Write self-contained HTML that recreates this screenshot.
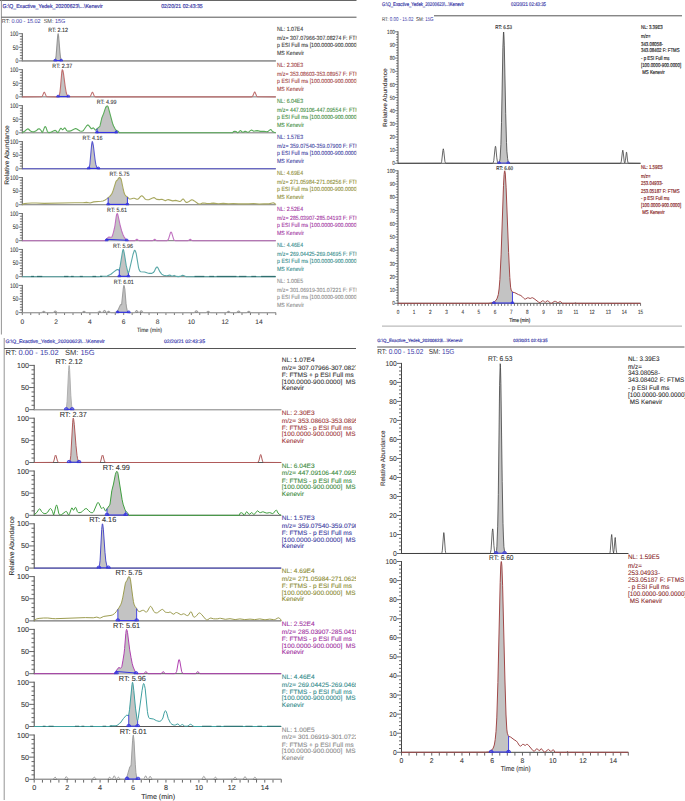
<!DOCTYPE html>
<html><head><meta charset="utf-8"><style>
html,body{margin:0;padding:0;background:#fff;overflow:hidden;}
svg{display:block;}
text{font-family:"Liberation Sans", sans-serif;white-space:pre;text-rendering:geometricPrecision;}
</style></head><body>
<svg width="685" height="801" viewBox="0 0 685 801" font-family='"Liberation Sans", sans-serif'>
<defs><clipPath id="ctl"><rect x="0" y="0" width="356.5" height="340"/></clipPath><clipPath id="cbl"><rect x="0" y="336" width="356" height="465"/></clipPath><clipPath id="cbr"><rect x="360" y="336" width="325" height="465"/></clipPath></defs>
<rect width="685" height="801" fill="#fff"/>
<line x1="0.00" y1="0.50" x2="356.50" y2="0.50" stroke="#666" stroke-width="1.2"/>
<line x1="1.40" y1="0.00" x2="1.40" y2="334.50" stroke="#888" stroke-width="0.9"/>
<line x1="1.40" y1="17.20" x2="356.50" y2="17.20" stroke="#555" stroke-width="1"/>
<text x="2.50" y="7.56" font-size="5.6" fill="#3a3aa8" stroke="#3a3aa8" stroke-width="0.18" textLength="100.3" lengthAdjust="spacingAndGlyphs">G:\Q_Exactive_Yedek_20200623\...\Kenevir</text>
<text x="161.20" y="7.56" font-size="5.6" fill="#3a3aa8" stroke="#3a3aa8" stroke-width="0.18" textLength="41.5" lengthAdjust="spacingAndGlyphs">02/20/21 02:43:35</text>
<text x="1.8" y="23.3" font-size="5.8" fill="#3a3aa8" textLength="63.5" lengthAdjust="spacingAndGlyphs"><tspan fill="#444">RT:</tspan> 0.00 - 15.02  <tspan fill="#444">SM:</tspan> 15G</text>
<text x="6.40" y="157.28" font-size="6.5" fill="#2a2a2a" stroke="#2a2a2a" stroke-width="0.09" text-anchor="middle" textLength="59.5" lengthAdjust="spacingAndGlyphs" transform="rotate(-90 6.4 155)">Relative Abundance</text>
<line x1="22.30" y1="312.62" x2="275.80" y2="312.62" stroke="#666" stroke-width="0.9"/>
<line x1="22.30" y1="312.62" x2="22.30" y2="315.02" stroke="#555" stroke-width="0.8"/>
<line x1="30.75" y1="312.62" x2="30.75" y2="315.02" stroke="#555" stroke-width="0.8"/>
<line x1="39.20" y1="312.62" x2="39.20" y2="315.02" stroke="#555" stroke-width="0.8"/>
<line x1="47.65" y1="312.62" x2="47.65" y2="315.02" stroke="#555" stroke-width="0.8"/>
<line x1="56.10" y1="312.62" x2="56.10" y2="315.02" stroke="#555" stroke-width="0.8"/>
<line x1="64.55" y1="312.62" x2="64.55" y2="315.02" stroke="#555" stroke-width="0.8"/>
<line x1="73.00" y1="312.62" x2="73.00" y2="315.02" stroke="#555" stroke-width="0.8"/>
<line x1="81.45" y1="312.62" x2="81.45" y2="315.02" stroke="#555" stroke-width="0.8"/>
<line x1="89.90" y1="312.62" x2="89.90" y2="315.02" stroke="#555" stroke-width="0.8"/>
<line x1="98.35" y1="312.62" x2="98.35" y2="315.02" stroke="#555" stroke-width="0.8"/>
<line x1="106.80" y1="312.62" x2="106.80" y2="315.02" stroke="#555" stroke-width="0.8"/>
<line x1="115.25" y1="312.62" x2="115.25" y2="315.02" stroke="#555" stroke-width="0.8"/>
<line x1="123.70" y1="312.62" x2="123.70" y2="315.02" stroke="#555" stroke-width="0.8"/>
<line x1="132.15" y1="312.62" x2="132.15" y2="315.02" stroke="#555" stroke-width="0.8"/>
<line x1="140.60" y1="312.62" x2="140.60" y2="315.02" stroke="#555" stroke-width="0.8"/>
<line x1="149.05" y1="312.62" x2="149.05" y2="315.02" stroke="#555" stroke-width="0.8"/>
<line x1="157.50" y1="312.62" x2="157.50" y2="315.02" stroke="#555" stroke-width="0.8"/>
<line x1="165.95" y1="312.62" x2="165.95" y2="315.02" stroke="#555" stroke-width="0.8"/>
<line x1="174.40" y1="312.62" x2="174.40" y2="315.02" stroke="#555" stroke-width="0.8"/>
<line x1="182.85" y1="312.62" x2="182.85" y2="315.02" stroke="#555" stroke-width="0.8"/>
<line x1="191.30" y1="312.62" x2="191.30" y2="315.02" stroke="#555" stroke-width="0.8"/>
<line x1="199.75" y1="312.62" x2="199.75" y2="315.02" stroke="#555" stroke-width="0.8"/>
<line x1="208.20" y1="312.62" x2="208.20" y2="315.02" stroke="#555" stroke-width="0.8"/>
<line x1="216.65" y1="312.62" x2="216.65" y2="315.02" stroke="#555" stroke-width="0.8"/>
<line x1="225.10" y1="312.62" x2="225.10" y2="315.02" stroke="#555" stroke-width="0.8"/>
<line x1="233.55" y1="312.62" x2="233.55" y2="315.02" stroke="#555" stroke-width="0.8"/>
<line x1="242.00" y1="312.62" x2="242.00" y2="315.02" stroke="#555" stroke-width="0.8"/>
<line x1="250.45" y1="312.62" x2="250.45" y2="315.02" stroke="#555" stroke-width="0.8"/>
<line x1="258.90" y1="312.62" x2="258.90" y2="315.02" stroke="#555" stroke-width="0.8"/>
<line x1="267.35" y1="312.62" x2="267.35" y2="315.02" stroke="#555" stroke-width="0.8"/>
<line x1="275.80" y1="312.62" x2="275.80" y2="315.02" stroke="#555" stroke-width="0.8"/>
<text x="22.30" y="323.83" font-size="6.6" fill="#3a3a3a" stroke="#3a3a3a" stroke-width="0.09" text-anchor="middle">0</text>
<text x="56.10" y="323.83" font-size="6.6" fill="#3a3a3a" stroke="#3a3a3a" stroke-width="0.09" text-anchor="middle">2</text>
<text x="89.90" y="323.83" font-size="6.6" fill="#3a3a3a" stroke="#3a3a3a" stroke-width="0.09" text-anchor="middle">4</text>
<text x="123.70" y="323.83" font-size="6.6" fill="#3a3a3a" stroke="#3a3a3a" stroke-width="0.09" text-anchor="middle">6</text>
<text x="157.50" y="323.83" font-size="6.6" fill="#3a3a3a" stroke="#3a3a3a" stroke-width="0.09" text-anchor="middle">8</text>
<text x="191.30" y="323.83" font-size="6.6" fill="#3a3a3a" stroke="#3a3a3a" stroke-width="0.09" text-anchor="middle">10</text>
<text x="225.10" y="323.83" font-size="6.6" fill="#3a3a3a" stroke="#3a3a3a" stroke-width="0.09" text-anchor="middle">12</text>
<text x="258.90" y="323.83" font-size="6.6" fill="#3a3a3a" stroke="#3a3a3a" stroke-width="0.09" text-anchor="middle">14</text>
<text x="149.56" y="332.02" font-size="6.0" fill="#333" stroke="#333" stroke-width="0.09" text-anchor="middle" textLength="25.1" lengthAdjust="spacingAndGlyphs">Time (min)</text>
<line x1="22.30" y1="33.20" x2="22.30" y2="61.40" stroke="#444" stroke-width="0.9"/>
<line x1="22.30" y1="60.90" x2="275.80" y2="60.90" stroke="#666" stroke-width="0.9"/>
<line x1="18.70" y1="60.90" x2="22.30" y2="60.90" stroke="#555" stroke-width="0.8"/>
<line x1="19.90" y1="58.18" x2="22.30" y2="58.18" stroke="#555" stroke-width="0.8"/>
<line x1="19.90" y1="55.46" x2="22.30" y2="55.46" stroke="#555" stroke-width="0.8"/>
<line x1="19.90" y1="52.74" x2="22.30" y2="52.74" stroke="#555" stroke-width="0.8"/>
<line x1="19.90" y1="50.02" x2="22.30" y2="50.02" stroke="#555" stroke-width="0.8"/>
<line x1="18.70" y1="47.30" x2="22.30" y2="47.30" stroke="#555" stroke-width="0.8"/>
<line x1="19.90" y1="44.58" x2="22.30" y2="44.58" stroke="#555" stroke-width="0.8"/>
<line x1="19.90" y1="41.86" x2="22.30" y2="41.86" stroke="#555" stroke-width="0.8"/>
<line x1="19.90" y1="39.14" x2="22.30" y2="39.14" stroke="#555" stroke-width="0.8"/>
<line x1="19.90" y1="36.42" x2="22.30" y2="36.42" stroke="#555" stroke-width="0.8"/>
<line x1="18.70" y1="33.70" x2="22.30" y2="33.70" stroke="#555" stroke-width="0.8"/>
<text x="18.40" y="63.21" font-size="6.6" fill="#3a3a3a" stroke="#3a3a3a" stroke-width="0.09" text-anchor="end" textLength="2.8" lengthAdjust="spacingAndGlyphs">0</text>
<text x="18.40" y="49.61" font-size="6.6" fill="#3a3a3a" stroke="#3a3a3a" stroke-width="0.09" text-anchor="end" textLength="5.6" lengthAdjust="spacingAndGlyphs">50</text>
<text x="18.40" y="36.01" font-size="6.6" fill="#3a3a3a" stroke="#3a3a3a" stroke-width="0.09" text-anchor="end" textLength="8.3" lengthAdjust="spacingAndGlyphs">100</text>
<polygon points="55.3,60.9 55.3,60.0 55.8,58.2 56.2,55.1 57.6,36.9 57.9,34.5 58.1,33.7 58.4,34.5 58.7,37.0 60.2,54.9 60.7,58.1 61.2,59.9 61.2,60.9" fill="#c3c3c3" stroke="none"/>
<polyline points="22.3,60.9 53.4,60.9 54.2,60.9 54.8,60.6 55.5,59.5 56.1,56.0 57.6,36.9 58.0,33.9 58.2,33.8 58.6,36.1 59.9,52.1 60.5,57.5 61.0,59.3 61.4,60.3 61.8,60.7 62.4,60.9 275.8,60.9" fill="none" stroke="#959595" stroke-width="1.1" stroke-linejoin="round"/>
<line x1="55.25" y1="60.60" x2="61.17" y2="60.60" stroke="#3434e0" stroke-width="1.2100000000000002"/>
<path d="M53.75,61.00 Q53.75,59.20 55.25,59.20 Q56.75,59.20 56.75,61.00 Z" fill="#3434e0" fill-opacity="0.55" stroke="#3434e0" stroke-width="0.8800000000000001"/>
<path d="M59.67,61.00 Q59.67,59.20 61.17,59.20 Q62.67,59.20 62.67,61.00 Z" fill="#3434e0" fill-opacity="0.55" stroke="#3434e0" stroke-width="0.8800000000000001"/>
<text x="58.13" y="31.80" font-size="6.0" fill="#333" stroke="#333" stroke-width="0.09" text-anchor="middle" textLength="20.0" lengthAdjust="spacingAndGlyphs">RT: 2.12</text>
<text x="277.00" y="30.80" font-size="6.0" fill="#333333" stroke="#333333" stroke-width="0.09" textLength="26.3" lengthAdjust="spacingAndGlyphs" clip-path="url(#ctl)">NL: 1.07E4</text>
<text x="277.00" y="39.80" font-size="6.0" fill="#333333" stroke="#333333" stroke-width="0.09" textLength="90.8" lengthAdjust="spacingAndGlyphs" clip-path="url(#ctl)">m/z= 307.07966-307.08274 F: FTMS +</text>
<text x="277.00" y="47.30" font-size="6.0" fill="#333333" stroke="#333333" stroke-width="0.09" textLength="81.1" lengthAdjust="spacingAndGlyphs" clip-path="url(#ctl)">p ESI Full ms [100.0000-900.0000]</text>
<text x="277.00" y="54.80" font-size="6.0" fill="#333333" stroke="#333333" stroke-width="0.09" textLength="27.1" lengthAdjust="spacingAndGlyphs" clip-path="url(#ctl)">MS Kenevir</text>
<line x1="22.30" y1="69.16" x2="22.30" y2="97.36" stroke="#444" stroke-width="0.9"/>
<line x1="22.30" y1="96.86" x2="275.80" y2="96.86" stroke="#666" stroke-width="0.9"/>
<line x1="18.70" y1="96.86" x2="22.30" y2="96.86" stroke="#555" stroke-width="0.8"/>
<line x1="19.90" y1="94.14" x2="22.30" y2="94.14" stroke="#555" stroke-width="0.8"/>
<line x1="19.90" y1="91.42" x2="22.30" y2="91.42" stroke="#555" stroke-width="0.8"/>
<line x1="19.90" y1="88.70" x2="22.30" y2="88.70" stroke="#555" stroke-width="0.8"/>
<line x1="19.90" y1="85.98" x2="22.30" y2="85.98" stroke="#555" stroke-width="0.8"/>
<line x1="18.70" y1="83.26" x2="22.30" y2="83.26" stroke="#555" stroke-width="0.8"/>
<line x1="19.90" y1="80.54" x2="22.30" y2="80.54" stroke="#555" stroke-width="0.8"/>
<line x1="19.90" y1="77.82" x2="22.30" y2="77.82" stroke="#555" stroke-width="0.8"/>
<line x1="19.90" y1="75.10" x2="22.30" y2="75.10" stroke="#555" stroke-width="0.8"/>
<line x1="19.90" y1="72.38" x2="22.30" y2="72.38" stroke="#555" stroke-width="0.8"/>
<line x1="18.70" y1="69.66" x2="22.30" y2="69.66" stroke="#555" stroke-width="0.8"/>
<text x="18.40" y="99.17" font-size="6.6" fill="#3a3a3a" stroke="#3a3a3a" stroke-width="0.09" text-anchor="end" textLength="2.8" lengthAdjust="spacingAndGlyphs">0</text>
<text x="18.40" y="85.57" font-size="6.6" fill="#3a3a3a" stroke="#3a3a3a" stroke-width="0.09" text-anchor="end" textLength="5.6" lengthAdjust="spacingAndGlyphs">50</text>
<text x="18.40" y="71.97" font-size="6.6" fill="#3a3a3a" stroke="#3a3a3a" stroke-width="0.09" text-anchor="end" textLength="8.3" lengthAdjust="spacingAndGlyphs">100</text>
<polygon points="58.1,96.9 58.1,96.8 58.8,96.3 59.2,95.6 59.9,92.8 60.5,87.6 61.7,72.9 62.0,70.4 62.3,69.7 62.4,69.7 62.6,69.8 62.9,70.5 63.4,73.1 65.2,86.9 66.0,91.6 66.9,94.7 67.5,95.8 68.3,96.5 68.3,96.9" fill="#c3c3c3" stroke="none"/>
<polyline points="22.3,96.9 41.3,96.8 41.9,96.5 42.4,96.1 43.8,92.6 44.3,92.2 44.7,92.6 46.2,96.1 47.0,96.7 56.9,96.9 58.4,96.6 58.8,96.3 59.3,95.5 59.9,92.7 60.5,87.1 61.8,72.1 62.2,69.8 62.4,69.7 62.9,70.5 63.5,73.6 65.2,86.6 66.2,92.5 66.9,94.6 67.5,95.8 68.4,96.5 69.4,96.8 89.5,96.8 90.1,96.5 90.5,96.1 92.0,92.6 92.4,92.2 92.9,92.6 94.3,96.1 95.0,96.7 96.0,96.9 251.1,96.9 252.1,96.6 252.8,96.0 254.3,92.4 254.7,92.0 255.1,92.4 256.6,96.0 257.0,96.5 257.6,96.8 275.8,96.9" fill="none" stroke="#c07070" stroke-width="1.1" stroke-linejoin="round"/>
<line x1="58.13" y1="96.56" x2="68.27" y2="96.56" stroke="#3434e0" stroke-width="1.2100000000000002"/>
<path d="M56.63,96.96 Q56.63,95.16 58.13,95.16 Q59.63,95.16 59.63,96.96 Z" fill="#3434e0" fill-opacity="0.55" stroke="#3434e0" stroke-width="0.8800000000000001"/>
<path d="M66.77,96.96 Q66.77,95.16 68.27,95.16 Q69.77,95.16 69.77,96.96 Z" fill="#3434e0" fill-opacity="0.55" stroke="#3434e0" stroke-width="0.8800000000000001"/>
<text x="62.35" y="67.76" font-size="6.0" fill="#333" stroke="#333" stroke-width="0.09" text-anchor="middle" textLength="20.0" lengthAdjust="spacingAndGlyphs">RT: 2.37</text>
<text x="277.00" y="66.76" font-size="6.0" fill="#a03a3a" stroke="#a03a3a" stroke-width="0.09" textLength="26.3" lengthAdjust="spacingAndGlyphs" clip-path="url(#ctl)">NL: 2.30E3</text>
<text x="277.00" y="75.76" font-size="6.0" fill="#a03a3a" stroke="#a03a3a" stroke-width="0.09" textLength="89.4" lengthAdjust="spacingAndGlyphs" clip-path="url(#ctl)">m/z= 353.08603-353.08957 F: FTMS -</text>
<text x="277.00" y="83.26" font-size="6.0" fill="#a03a3a" stroke="#a03a3a" stroke-width="0.09" textLength="81.1" lengthAdjust="spacingAndGlyphs" clip-path="url(#ctl)">p ESI Full ms [100.0000-900.0000]</text>
<text x="277.00" y="90.76" font-size="6.0" fill="#a03a3a" stroke="#a03a3a" stroke-width="0.09" textLength="27.1" lengthAdjust="spacingAndGlyphs" clip-path="url(#ctl)">MS Kenevir</text>
<line x1="22.30" y1="105.12" x2="22.30" y2="133.32" stroke="#444" stroke-width="0.9"/>
<line x1="22.30" y1="132.82" x2="275.80" y2="132.82" stroke="#666" stroke-width="0.9"/>
<line x1="18.70" y1="132.82" x2="22.30" y2="132.82" stroke="#555" stroke-width="0.8"/>
<line x1="19.90" y1="130.10" x2="22.30" y2="130.10" stroke="#555" stroke-width="0.8"/>
<line x1="19.90" y1="127.38" x2="22.30" y2="127.38" stroke="#555" stroke-width="0.8"/>
<line x1="19.90" y1="124.66" x2="22.30" y2="124.66" stroke="#555" stroke-width="0.8"/>
<line x1="19.90" y1="121.94" x2="22.30" y2="121.94" stroke="#555" stroke-width="0.8"/>
<line x1="18.70" y1="119.22" x2="22.30" y2="119.22" stroke="#555" stroke-width="0.8"/>
<line x1="19.90" y1="116.50" x2="22.30" y2="116.50" stroke="#555" stroke-width="0.8"/>
<line x1="19.90" y1="113.78" x2="22.30" y2="113.78" stroke="#555" stroke-width="0.8"/>
<line x1="19.90" y1="111.06" x2="22.30" y2="111.06" stroke="#555" stroke-width="0.8"/>
<line x1="19.90" y1="108.34" x2="22.30" y2="108.34" stroke="#555" stroke-width="0.8"/>
<line x1="18.70" y1="105.62" x2="22.30" y2="105.62" stroke="#555" stroke-width="0.8"/>
<text x="18.40" y="135.13" font-size="6.6" fill="#3a3a3a" stroke="#3a3a3a" stroke-width="0.09" text-anchor="end" textLength="2.8" lengthAdjust="spacingAndGlyphs">0</text>
<text x="18.40" y="121.53" font-size="6.6" fill="#3a3a3a" stroke="#3a3a3a" stroke-width="0.09" text-anchor="end" textLength="5.6" lengthAdjust="spacingAndGlyphs">50</text>
<text x="18.40" y="107.93" font-size="6.6" fill="#3a3a3a" stroke="#3a3a3a" stroke-width="0.09" text-anchor="end" textLength="8.3" lengthAdjust="spacingAndGlyphs">100</text>
<polygon points="97.0,132.8 97.0,128.7 99.6,126.7 100.0,126.1 100.5,124.5 101.5,119.2 102.0,117.6 103.7,113.5 105.5,108.0 106.4,106.4 106.8,106.0 107.1,105.9 107.5,106.0 107.8,106.3 108.3,107.4 112.9,124.5 114.2,127.2 115.5,129.4 116.3,130.4 116.3,132.8" fill="#c3c3c3" stroke="none"/>
<polyline points="22.3,132.8 22.9,132.2 25.0,131.0 26.7,129.4 27.6,128.9 28.4,129.0 29.9,130.5 31.0,131.2 32.2,131.7 33.3,131.9 34.6,131.6 36.2,130.8 38.1,129.0 39.0,128.7 39.8,129.1 41.1,130.5 42.2,132.6 42.8,131.8 44.5,127.4 44.9,126.7 45.3,126.5 46.0,127.3 47.4,131.5 48.1,132.3 48.7,132.6 50.4,132.4 54.4,130.6 55.3,130.4 55.9,130.7 57.2,132.3 57.8,132.6 58.6,131.8 60.1,129.1 60.7,128.3 61.2,128.3 62.2,129.5 62.6,129.7 63.1,129.5 64.3,128.1 64.8,127.9 65.4,128.5 66.7,130.6 67.5,131.1 69.4,131.1 70.7,130.9 73.4,129.4 75.5,128.6 76.4,128.8 80.0,131.0 81.9,131.2 82.7,131.0 83.4,130.5 86.7,125.7 87.8,124.9 88.6,125.3 91.2,128.6 91.8,128.7 92.9,128.0 93.3,127.9 93.9,128.4 95.2,130.0 95.8,130.2 96.9,128.9 99.6,126.6 100.0,125.9 101.9,117.7 103.6,113.6 105.5,107.9 106.4,106.4 107.2,105.9 107.9,106.4 108.3,107.3 112.5,123.2 113.6,126.0 115.2,129.0 116.1,130.2 118.0,131.2 119.3,132.7 119.7,132.8 232.7,132.8 233.5,131.5 234.8,131.2 236.1,131.5 237.4,132.7 237.8,132.8 238.4,132.4 239.7,131.0 240.3,130.6 240.9,130.8 242.2,132.0 242.8,132.3 243.5,132.1 244.7,131.4 245.4,131.2 246.0,131.4 247.3,132.2 247.9,132.3 248.8,131.9 250.7,130.4 251.5,130.1 253.8,131.2 257.2,130.6 260.4,131.4 264.0,131.2 266.9,131.8 267.8,131.6 269.9,129.9 270.7,129.6 271.2,129.8 272.4,131.5 274.1,132.3 275.8,132.8" fill="none" stroke="#5aab5a" stroke-width="1.1" stroke-linejoin="round"/>
<line x1="97.00" y1="132.82" x2="97.00" y2="128.74" stroke="#3434e0" stroke-width="0.9900000000000001"/>
<line x1="116.26" y1="132.82" x2="116.26" y2="130.37" stroke="#3434e0" stroke-width="0.9900000000000001"/>
<line x1="97.00" y1="132.52" x2="116.26" y2="132.52" stroke="#3434e0" stroke-width="1.2100000000000002"/>
<path d="M95.50,132.92 Q95.50,131.12 97.00,131.12 Q98.50,131.12 98.50,132.92 Z" fill="#3434e0" fill-opacity="0.55" stroke="#3434e0" stroke-width="0.8800000000000001"/>
<path d="M114.76,132.92 Q114.76,131.12 116.26,131.12 Q117.76,131.12 117.76,132.92 Z" fill="#3434e0" fill-opacity="0.55" stroke="#3434e0" stroke-width="0.8800000000000001"/>
<text x="106.63" y="103.72" font-size="6.0" fill="#333" stroke="#333" stroke-width="0.09" text-anchor="middle" textLength="20.0" lengthAdjust="spacingAndGlyphs">RT: 4.99</text>
<text x="277.00" y="102.72" font-size="6.0" fill="#3a8a3a" stroke="#3a8a3a" stroke-width="0.09" textLength="26.3" lengthAdjust="spacingAndGlyphs" clip-path="url(#ctl)">NL: 6.04E3</text>
<text x="277.00" y="111.72" font-size="6.0" fill="#3a8a3a" stroke="#3a8a3a" stroke-width="0.09" textLength="89.4" lengthAdjust="spacingAndGlyphs" clip-path="url(#ctl)">m/z= 447.09106-447.09554 F: FTMS -</text>
<text x="277.00" y="119.22" font-size="6.0" fill="#3a8a3a" stroke="#3a8a3a" stroke-width="0.09" textLength="81.1" lengthAdjust="spacingAndGlyphs" clip-path="url(#ctl)">p ESI Full ms [100.0000-900.0000]</text>
<text x="277.00" y="126.72" font-size="6.0" fill="#3a8a3a" stroke="#3a8a3a" stroke-width="0.09" textLength="27.1" lengthAdjust="spacingAndGlyphs" clip-path="url(#ctl)">MS Kenevir</text>
<line x1="22.30" y1="141.08" x2="22.30" y2="169.28" stroke="#444" stroke-width="0.9"/>
<line x1="22.30" y1="168.78" x2="275.80" y2="168.78" stroke="#666" stroke-width="0.9"/>
<line x1="18.70" y1="168.78" x2="22.30" y2="168.78" stroke="#555" stroke-width="0.8"/>
<line x1="19.90" y1="166.06" x2="22.30" y2="166.06" stroke="#555" stroke-width="0.8"/>
<line x1="19.90" y1="163.34" x2="22.30" y2="163.34" stroke="#555" stroke-width="0.8"/>
<line x1="19.90" y1="160.62" x2="22.30" y2="160.62" stroke="#555" stroke-width="0.8"/>
<line x1="19.90" y1="157.90" x2="22.30" y2="157.90" stroke="#555" stroke-width="0.8"/>
<line x1="18.70" y1="155.18" x2="22.30" y2="155.18" stroke="#555" stroke-width="0.8"/>
<line x1="19.90" y1="152.46" x2="22.30" y2="152.46" stroke="#555" stroke-width="0.8"/>
<line x1="19.90" y1="149.74" x2="22.30" y2="149.74" stroke="#555" stroke-width="0.8"/>
<line x1="19.90" y1="147.02" x2="22.30" y2="147.02" stroke="#555" stroke-width="0.8"/>
<line x1="19.90" y1="144.30" x2="22.30" y2="144.30" stroke="#555" stroke-width="0.8"/>
<line x1="18.70" y1="141.58" x2="22.30" y2="141.58" stroke="#555" stroke-width="0.8"/>
<text x="18.40" y="171.09" font-size="6.6" fill="#3a3a3a" stroke="#3a3a3a" stroke-width="0.09" text-anchor="end" textLength="2.8" lengthAdjust="spacingAndGlyphs">0</text>
<text x="18.40" y="157.49" font-size="6.6" fill="#3a3a3a" stroke="#3a3a3a" stroke-width="0.09" text-anchor="end" textLength="5.6" lengthAdjust="spacingAndGlyphs">50</text>
<text x="18.40" y="143.89" font-size="6.6" fill="#3a3a3a" stroke="#3a3a3a" stroke-width="0.09" text-anchor="end" textLength="8.3" lengthAdjust="spacingAndGlyphs">100</text>
<polygon points="88.7,168.8 88.7,168.2 89.1,167.6 89.5,166.3 90.0,163.3 91.6,145.0 91.9,142.5 92.2,141.6 92.4,141.7 92.7,142.3 93.2,144.9 94.9,159.2 95.8,164.5 96.4,166.4 96.9,167.5 97.5,168.2 98.3,168.7 98.3,168.8" fill="#c3c3c3" stroke="none"/>
<polyline points="22.3,168.8 86.5,168.8 88.2,168.6 88.8,168.1 89.3,167.1 89.9,164.0 91.6,145.2 92.2,141.6 92.6,142.1 93.3,145.3 95.0,159.3 95.8,164.4 96.9,167.5 97.5,168.3 98.6,168.7 275.8,168.8" fill="none" stroke="#5a5ad0" stroke-width="1.1" stroke-linejoin="round"/>
<line x1="88.72" y1="168.48" x2="98.35" y2="168.48" stroke="#3434e0" stroke-width="1.2100000000000002"/>
<path d="M87.22,168.88 Q87.22,167.08 88.72,167.08 Q90.22,167.08 90.22,168.88 Z" fill="#3434e0" fill-opacity="0.55" stroke="#3434e0" stroke-width="0.8800000000000001"/>
<path d="M96.85,168.88 Q96.85,167.08 98.35,167.08 Q99.85,167.08 99.85,168.88 Z" fill="#3434e0" fill-opacity="0.55" stroke="#3434e0" stroke-width="0.8800000000000001"/>
<text x="92.60" y="139.68" font-size="6.0" fill="#333" stroke="#333" stroke-width="0.09" text-anchor="middle" textLength="20.0" lengthAdjust="spacingAndGlyphs">RT: 4.16</text>
<text x="277.00" y="138.68" font-size="6.0" fill="#3a3aa0" stroke="#3a3aa0" stroke-width="0.09" textLength="26.3" lengthAdjust="spacingAndGlyphs" clip-path="url(#ctl)">NL: 1.57E3</text>
<text x="277.00" y="147.68" font-size="6.0" fill="#3a3aa0" stroke="#3a3aa0" stroke-width="0.09" textLength="89.4" lengthAdjust="spacingAndGlyphs" clip-path="url(#ctl)">m/z= 359.07540-359.07900 F: FTMS -</text>
<text x="277.00" y="155.18" font-size="6.0" fill="#3a3aa0" stroke="#3a3aa0" stroke-width="0.09" textLength="81.1" lengthAdjust="spacingAndGlyphs" clip-path="url(#ctl)">p ESI Full ms [100.0000-900.0000]</text>
<text x="277.00" y="162.68" font-size="6.0" fill="#3a3aa0" stroke="#3a3aa0" stroke-width="0.09" textLength="27.1" lengthAdjust="spacingAndGlyphs" clip-path="url(#ctl)">MS Kenevir</text>
<line x1="22.30" y1="177.04" x2="22.30" y2="205.24" stroke="#444" stroke-width="0.9"/>
<line x1="22.30" y1="204.74" x2="275.80" y2="204.74" stroke="#666" stroke-width="0.9"/>
<line x1="18.70" y1="204.74" x2="22.30" y2="204.74" stroke="#555" stroke-width="0.8"/>
<line x1="19.90" y1="202.02" x2="22.30" y2="202.02" stroke="#555" stroke-width="0.8"/>
<line x1="19.90" y1="199.30" x2="22.30" y2="199.30" stroke="#555" stroke-width="0.8"/>
<line x1="19.90" y1="196.58" x2="22.30" y2="196.58" stroke="#555" stroke-width="0.8"/>
<line x1="19.90" y1="193.86" x2="22.30" y2="193.86" stroke="#555" stroke-width="0.8"/>
<line x1="18.70" y1="191.14" x2="22.30" y2="191.14" stroke="#555" stroke-width="0.8"/>
<line x1="19.90" y1="188.42" x2="22.30" y2="188.42" stroke="#555" stroke-width="0.8"/>
<line x1="19.90" y1="185.70" x2="22.30" y2="185.70" stroke="#555" stroke-width="0.8"/>
<line x1="19.90" y1="182.98" x2="22.30" y2="182.98" stroke="#555" stroke-width="0.8"/>
<line x1="19.90" y1="180.26" x2="22.30" y2="180.26" stroke="#555" stroke-width="0.8"/>
<line x1="18.70" y1="177.54" x2="22.30" y2="177.54" stroke="#555" stroke-width="0.8"/>
<text x="18.40" y="207.05" font-size="6.6" fill="#3a3a3a" stroke="#3a3a3a" stroke-width="0.09" text-anchor="end" textLength="2.8" lengthAdjust="spacingAndGlyphs">0</text>
<text x="18.40" y="193.45" font-size="6.6" fill="#3a3a3a" stroke="#3a3a3a" stroke-width="0.09" text-anchor="end" textLength="5.6" lengthAdjust="spacingAndGlyphs">50</text>
<text x="18.40" y="179.85" font-size="6.6" fill="#3a3a3a" stroke="#3a3a3a" stroke-width="0.09" text-anchor="end" textLength="8.3" lengthAdjust="spacingAndGlyphs">100</text>
<polygon points="108.2,204.7 108.2,197.7 110.3,195.7 111.9,193.6 112.8,191.6 113.9,188.3 115.3,183.1 115.9,181.7 116.4,180.9 117.5,179.9 118.8,177.9 119.2,177.6 119.6,177.5 120.1,177.7 120.5,178.0 121.3,179.7 122.9,188.0 123.8,191.7 124.5,193.8 125.0,194.9 125.5,195.6 127.4,197.1 127.4,204.7" fill="#c3c3c3" stroke="none"/>
<polyline points="22.3,204.7 22.5,204.4 23.4,203.9 24.4,203.6 27.4,203.2 32.0,203.0 36.2,203.0 44.1,203.4 74.9,202.7 82.9,202.8 86.5,202.4 90.1,203.0 93.7,201.9 101.1,201.3 103.0,201.0 104.7,200.3 106.4,199.1 109.8,196.3 111.2,194.6 112.1,193.2 113.1,190.6 115.9,181.6 116.3,181.0 117.6,179.8 118.8,177.9 119.5,177.5 120.3,177.9 121.2,179.4 123.3,189.5 124.1,192.8 124.8,194.5 125.8,195.9 127.3,197.0 129.0,198.7 129.6,199.0 130.7,199.0 133.2,198.3 134.3,198.2 136.8,199.3 137.6,199.3 138.5,198.8 140.6,196.4 141.7,195.7 142.3,196.0 143.1,196.7 145.0,198.9 146.1,199.5 147.1,199.8 148.8,199.7 152.6,198.0 153.9,197.6 154.5,197.8 156.2,199.1 156.9,199.4 159.4,199.6 161.9,199.3 164.9,200.6 165.7,200.6 167.4,199.7 168.3,199.6 172.7,200.9 175.7,200.4 179.7,201.5 180.5,201.3 182.4,199.3 183.1,199.0 183.7,199.3 185.4,201.8 186.2,202.4 187.1,202.4 187.9,202.1 189.0,201.5 190.9,200.1 191.9,199.8 192.8,200.1 194.3,200.9 197.8,203.5 199.3,204.1 200.4,204.0 202.5,203.1 203.6,203.0 206.3,203.4 208.0,203.5 210.7,203.4 213.5,203.1 218.3,203.8 223.2,203.4 228.5,203.9 233.3,203.5 238.4,203.9 243.7,203.7 248.5,203.9 253.8,203.5 259.1,204.1 264.0,203.7 269.0,203.9 272.2,203.0 273.3,202.8 273.9,203.0 275.6,204.1 275.8,204.7" fill="none" stroke="#a8a860" stroke-width="1.1" stroke-linejoin="round"/>
<line x1="108.15" y1="204.74" x2="108.15" y2="197.67" stroke="#3434e0" stroke-width="0.9900000000000001"/>
<line x1="127.42" y1="204.74" x2="127.42" y2="197.12" stroke="#3434e0" stroke-width="0.9900000000000001"/>
<line x1="108.15" y1="204.44" x2="127.42" y2="204.44" stroke="#3434e0" stroke-width="1.2100000000000002"/>
<path d="M106.65,204.84 Q106.65,203.04 108.15,203.04 Q109.65,203.04 109.65,204.84 Z" fill="#3434e0" fill-opacity="0.55" stroke="#3434e0" stroke-width="0.8800000000000001"/>
<path d="M125.92,204.84 Q125.92,203.04 127.42,203.04 Q128.92,203.04 128.92,204.84 Z" fill="#3434e0" fill-opacity="0.55" stroke="#3434e0" stroke-width="0.8800000000000001"/>
<text x="119.47" y="175.64" font-size="6.0" fill="#333" stroke="#333" stroke-width="0.09" text-anchor="middle" textLength="20.0" lengthAdjust="spacingAndGlyphs">RT: 5.75</text>
<text x="277.00" y="174.64" font-size="6.0" fill="#8a8a30" stroke="#8a8a30" stroke-width="0.09" textLength="26.3" lengthAdjust="spacingAndGlyphs" clip-path="url(#ctl)">NL: 4.69E4</text>
<text x="277.00" y="183.64" font-size="6.0" fill="#8a8a30" stroke="#8a8a30" stroke-width="0.09" textLength="89.4" lengthAdjust="spacingAndGlyphs" clip-path="url(#ctl)">m/z= 271.05984-271.06256 F: FTMS -</text>
<text x="277.00" y="191.14" font-size="6.0" fill="#8a8a30" stroke="#8a8a30" stroke-width="0.09" textLength="81.1" lengthAdjust="spacingAndGlyphs" clip-path="url(#ctl)">p ESI Full ms [100.0000-900.0000]</text>
<text x="277.00" y="198.64" font-size="6.0" fill="#8a8a30" stroke="#8a8a30" stroke-width="0.09" textLength="27.1" lengthAdjust="spacingAndGlyphs" clip-path="url(#ctl)">MS Kenevir</text>
<line x1="22.30" y1="213.00" x2="22.30" y2="241.20" stroke="#444" stroke-width="0.9"/>
<line x1="22.30" y1="240.70" x2="275.80" y2="240.70" stroke="#666" stroke-width="0.9"/>
<line x1="18.70" y1="240.70" x2="22.30" y2="240.70" stroke="#555" stroke-width="0.8"/>
<line x1="19.90" y1="237.98" x2="22.30" y2="237.98" stroke="#555" stroke-width="0.8"/>
<line x1="19.90" y1="235.26" x2="22.30" y2="235.26" stroke="#555" stroke-width="0.8"/>
<line x1="19.90" y1="232.54" x2="22.30" y2="232.54" stroke="#555" stroke-width="0.8"/>
<line x1="19.90" y1="229.82" x2="22.30" y2="229.82" stroke="#555" stroke-width="0.8"/>
<line x1="18.70" y1="227.10" x2="22.30" y2="227.10" stroke="#555" stroke-width="0.8"/>
<line x1="19.90" y1="224.38" x2="22.30" y2="224.38" stroke="#555" stroke-width="0.8"/>
<line x1="19.90" y1="221.66" x2="22.30" y2="221.66" stroke="#555" stroke-width="0.8"/>
<line x1="19.90" y1="218.94" x2="22.30" y2="218.94" stroke="#555" stroke-width="0.8"/>
<line x1="19.90" y1="216.22" x2="22.30" y2="216.22" stroke="#555" stroke-width="0.8"/>
<line x1="18.70" y1="213.50" x2="22.30" y2="213.50" stroke="#555" stroke-width="0.8"/>
<text x="18.40" y="243.01" font-size="6.6" fill="#3a3a3a" stroke="#3a3a3a" stroke-width="0.09" text-anchor="end" textLength="2.8" lengthAdjust="spacingAndGlyphs">0</text>
<text x="18.40" y="229.41" font-size="6.6" fill="#3a3a3a" stroke="#3a3a3a" stroke-width="0.09" text-anchor="end" textLength="5.6" lengthAdjust="spacingAndGlyphs">50</text>
<text x="18.40" y="215.81" font-size="6.6" fill="#3a3a3a" stroke="#3a3a3a" stroke-width="0.09" text-anchor="end" textLength="8.3" lengthAdjust="spacingAndGlyphs">100</text>
<polygon points="106.6,240.7 106.6,238.8 107.8,237.6 108.5,237.2 109.0,237.0 110.8,237.2 111.5,237.2 112.0,236.7 112.4,235.9 113.5,232.4 114.4,228.5 115.1,225.0 116.3,216.3 116.8,214.0 117.1,213.5 117.2,213.5 117.6,214.2 118.0,215.5 120.3,226.0 121.4,230.0 122.5,233.4 123.8,236.4 125.7,239.2 126.7,240.3 126.7,240.7" fill="#c3c3c3" stroke="none"/>
<polyline points="22.3,240.7 105.1,240.7 106.6,238.8 108.3,237.3 109.1,237.0 110.8,237.2 111.4,237.2 111.9,236.9 112.3,236.1 113.3,232.8 114.4,228.5 115.0,225.3 116.3,216.1 116.7,214.3 117.2,213.5 117.6,214.0 118.0,215.4 120.3,226.0 121.6,230.7 122.9,234.4 123.9,236.6 125.8,239.4 126.7,240.2 127.7,240.6 134.7,240.7 135.3,240.5 136.8,239.3 137.2,239.4 138.5,240.5 139.5,240.7 152.2,240.7 153.1,240.5 154.5,239.3 155.0,239.4 156.2,240.5 156.9,240.7 167.0,240.6 167.9,240.1 168.5,239.2 170.4,232.9 171.0,232.0 171.7,232.9 173.6,239.2 174.4,240.3 175.5,240.7 187.7,240.7 188.6,240.5 190.0,239.3 190.5,239.4 191.7,240.5 193.0,240.7 275.8,240.7" fill="none" stroke="#c070c0" stroke-width="1.1" stroke-linejoin="round"/>
<line x1="106.63" y1="240.70" x2="106.63" y2="238.80" stroke="#3434e0" stroke-width="0.9900000000000001"/>
<line x1="106.63" y1="239.34" x2="126.74" y2="240.29" stroke="#3434e0" stroke-width="1.1"/>
<path d="M105.13,240.80 Q105.13,239.00 106.63,239.00 Q108.13,239.00 108.13,240.80 Z" fill="#3434e0" fill-opacity="0.55" stroke="#3434e0" stroke-width="0.8800000000000001"/>
<path d="M125.24,240.80 Q125.24,239.00 126.74,239.00 Q128.24,239.00 128.24,240.80 Z" fill="#3434e0" fill-opacity="0.55" stroke="#3434e0" stroke-width="0.8800000000000001"/>
<text x="117.11" y="211.60" font-size="6.0" fill="#333" stroke="#333" stroke-width="0.09" text-anchor="middle" textLength="20.0" lengthAdjust="spacingAndGlyphs">RT: 5.61</text>
<text x="277.00" y="210.60" font-size="6.0" fill="#a030a0" stroke="#a030a0" stroke-width="0.09" textLength="26.3" lengthAdjust="spacingAndGlyphs" clip-path="url(#ctl)">NL: 2.52E4</text>
<text x="277.00" y="219.60" font-size="6.0" fill="#a030a0" stroke="#a030a0" stroke-width="0.09" textLength="89.4" lengthAdjust="spacingAndGlyphs" clip-path="url(#ctl)">m/z= 285.03907-285.04193 F: FTMS -</text>
<text x="277.00" y="227.10" font-size="6.0" fill="#a030a0" stroke="#a030a0" stroke-width="0.09" textLength="81.1" lengthAdjust="spacingAndGlyphs" clip-path="url(#ctl)">p ESI Full ms [100.0000-900.0000]</text>
<text x="277.00" y="234.60" font-size="6.0" fill="#a030a0" stroke="#a030a0" stroke-width="0.09" textLength="27.1" lengthAdjust="spacingAndGlyphs" clip-path="url(#ctl)">MS Kenevir</text>
<line x1="22.30" y1="248.96" x2="22.30" y2="277.16" stroke="#444" stroke-width="0.9"/>
<line x1="22.30" y1="276.66" x2="275.80" y2="276.66" stroke="#666" stroke-width="0.9"/>
<line x1="18.70" y1="276.66" x2="22.30" y2="276.66" stroke="#555" stroke-width="0.8"/>
<line x1="19.90" y1="273.94" x2="22.30" y2="273.94" stroke="#555" stroke-width="0.8"/>
<line x1="19.90" y1="271.22" x2="22.30" y2="271.22" stroke="#555" stroke-width="0.8"/>
<line x1="19.90" y1="268.50" x2="22.30" y2="268.50" stroke="#555" stroke-width="0.8"/>
<line x1="19.90" y1="265.78" x2="22.30" y2="265.78" stroke="#555" stroke-width="0.8"/>
<line x1="18.70" y1="263.06" x2="22.30" y2="263.06" stroke="#555" stroke-width="0.8"/>
<line x1="19.90" y1="260.34" x2="22.30" y2="260.34" stroke="#555" stroke-width="0.8"/>
<line x1="19.90" y1="257.62" x2="22.30" y2="257.62" stroke="#555" stroke-width="0.8"/>
<line x1="19.90" y1="254.90" x2="22.30" y2="254.90" stroke="#555" stroke-width="0.8"/>
<line x1="19.90" y1="252.18" x2="22.30" y2="252.18" stroke="#555" stroke-width="0.8"/>
<line x1="18.70" y1="249.46" x2="22.30" y2="249.46" stroke="#555" stroke-width="0.8"/>
<text x="18.40" y="278.97" font-size="6.6" fill="#3a3a3a" stroke="#3a3a3a" stroke-width="0.09" text-anchor="end" textLength="2.8" lengthAdjust="spacingAndGlyphs">0</text>
<text x="18.40" y="265.37" font-size="6.6" fill="#3a3a3a" stroke="#3a3a3a" stroke-width="0.09" text-anchor="end" textLength="5.6" lengthAdjust="spacingAndGlyphs">50</text>
<text x="18.40" y="251.77" font-size="6.6" fill="#3a3a3a" stroke="#3a3a3a" stroke-width="0.09" text-anchor="end" textLength="8.3" lengthAdjust="spacingAndGlyphs">100</text>
<polygon points="119.3,276.7 119.3,269.6 119.7,268.3 120.2,265.8 122.6,251.3 122.9,250.0 123.2,249.5 123.4,249.6 123.6,250.2 124.2,252.6 124.8,256.0 125.8,263.1 126.4,266.2 127.9,272.2 128.2,273.0 128.4,273.1 128.4,276.7" fill="#c3c3c3" stroke="none"/>
<polyline points="22.3,276.7 99.2,276.7 100.5,276.2 105.3,276.3 107.2,276.1 109.8,274.7 110.6,274.5 113.8,271.9 116.7,269.8 117.6,269.6 118.6,270.1 119.3,269.7 120.1,266.4 122.6,251.0 123.1,249.6 123.3,249.5 123.7,250.5 124.5,254.6 126.2,265.4 127.9,272.3 128.3,273.2 129.0,271.8 133.0,254.5 134.1,251.1 134.5,250.3 134.7,250.3 135.1,250.6 135.5,251.4 136.2,253.5 138.5,267.3 139.1,269.6 139.8,271.0 140.6,271.7 144.6,272.0 147.6,273.0 149.3,273.4 151.6,273.4 152.4,273.1 153.3,272.6 154.3,271.4 155.6,268.6 156.2,267.6 156.7,267.1 157.1,267.0 157.7,267.5 158.3,268.5 159.8,271.7 161.7,274.1 163.6,275.3 166.2,275.8 167.0,275.8 169.8,275.1 171.9,276.3 174.2,275.4 176.5,276.4 178.2,276.6 180.1,276.4 182.6,275.3 183.5,275.5 186.2,276.7 275.8,276.7" fill="none" stroke="#5aa8a8" stroke-width="1.1" stroke-linejoin="round"/>
<line x1="31.09" y1="276.46" x2="33.96" y2="276.46" stroke="#2f6f6f" stroke-width="1.2100000000000002"/>
<line x1="37.00" y1="276.46" x2="42.24" y2="276.46" stroke="#2f6f6f" stroke-width="1.2100000000000002"/>
<line x1="64.04" y1="276.46" x2="68.44" y2="276.46" stroke="#2f6f6f" stroke-width="1.2100000000000002"/>
<line x1="70.80" y1="276.46" x2="73.68" y2="276.46" stroke="#2f6f6f" stroke-width="1.2100000000000002"/>
<line x1="79.76" y1="276.46" x2="82.80" y2="276.46" stroke="#2f6f6f" stroke-width="1.2100000000000002"/>
<line x1="92.44" y1="276.46" x2="96.15" y2="276.46" stroke="#2f6f6f" stroke-width="1.2100000000000002"/>
<line x1="100.04" y1="276.46" x2="102.24" y2="276.46" stroke="#2f6f6f" stroke-width="1.2100000000000002"/>
<line x1="194.51" y1="276.46" x2="204.31" y2="276.46" stroke="#2f6f6f" stroke-width="1.2100000000000002"/>
<line x1="209.21" y1="276.46" x2="214.11" y2="276.46" stroke="#2f6f6f" stroke-width="1.2100000000000002"/>
<line x1="216.65" y1="276.46" x2="236.42" y2="276.46" stroke="#2f6f6f" stroke-width="1.2100000000000002"/>
<line x1="238.96" y1="276.46" x2="246.39" y2="276.46" stroke="#2f6f6f" stroke-width="1.2100000000000002"/>
<line x1="251.30" y1="276.46" x2="256.20" y2="276.46" stroke="#2f6f6f" stroke-width="1.2100000000000002"/>
<line x1="261.10" y1="276.46" x2="275.46" y2="276.46" stroke="#2f6f6f" stroke-width="1.2100000000000002"/>
<line x1="119.31" y1="276.66" x2="119.31" y2="269.59" stroke="#3434e0" stroke-width="0.9900000000000001"/>
<line x1="128.43" y1="276.66" x2="128.43" y2="273.12" stroke="#3434e0" stroke-width="0.9900000000000001"/>
<line x1="119.31" y1="276.36" x2="128.43" y2="276.36" stroke="#3434e0" stroke-width="1.2100000000000002"/>
<path d="M117.81,276.76 Q117.81,274.96 119.31,274.96 Q120.81,274.96 120.81,276.76 Z" fill="#3434e0" fill-opacity="0.55" stroke="#3434e0" stroke-width="0.8800000000000001"/>
<path d="M126.93,276.76 Q126.93,274.96 128.43,274.96 Q129.93,274.96 129.93,276.76 Z" fill="#3434e0" fill-opacity="0.55" stroke="#3434e0" stroke-width="0.8800000000000001"/>
<text x="123.02" y="247.56" font-size="6.0" fill="#333" stroke="#333" stroke-width="0.09" text-anchor="middle" textLength="20.0" lengthAdjust="spacingAndGlyphs">RT: 5.96</text>
<text x="277.00" y="246.56" font-size="6.0" fill="#308a8a" stroke="#308a8a" stroke-width="0.09" textLength="26.3" lengthAdjust="spacingAndGlyphs" clip-path="url(#ctl)">NL: 4.46E4</text>
<text x="277.00" y="255.56" font-size="6.0" fill="#308a8a" stroke="#308a8a" stroke-width="0.09" textLength="89.4" lengthAdjust="spacingAndGlyphs" clip-path="url(#ctl)">m/z= 269.04425-269.04695 F: FTMS -</text>
<text x="277.00" y="263.06" font-size="6.0" fill="#308a8a" stroke="#308a8a" stroke-width="0.09" textLength="81.1" lengthAdjust="spacingAndGlyphs" clip-path="url(#ctl)">p ESI Full ms [100.0000-900.0000]</text>
<text x="277.00" y="270.56" font-size="6.0" fill="#308a8a" stroke="#308a8a" stroke-width="0.09" textLength="27.1" lengthAdjust="spacingAndGlyphs" clip-path="url(#ctl)">MS Kenevir</text>
<line x1="22.30" y1="284.92" x2="22.30" y2="313.12" stroke="#444" stroke-width="0.9"/>
<line x1="18.70" y1="312.62" x2="22.30" y2="312.62" stroke="#555" stroke-width="0.8"/>
<line x1="19.90" y1="309.90" x2="22.30" y2="309.90" stroke="#555" stroke-width="0.8"/>
<line x1="19.90" y1="307.18" x2="22.30" y2="307.18" stroke="#555" stroke-width="0.8"/>
<line x1="19.90" y1="304.46" x2="22.30" y2="304.46" stroke="#555" stroke-width="0.8"/>
<line x1="19.90" y1="301.74" x2="22.30" y2="301.74" stroke="#555" stroke-width="0.8"/>
<line x1="18.70" y1="299.02" x2="22.30" y2="299.02" stroke="#555" stroke-width="0.8"/>
<line x1="19.90" y1="296.30" x2="22.30" y2="296.30" stroke="#555" stroke-width="0.8"/>
<line x1="19.90" y1="293.58" x2="22.30" y2="293.58" stroke="#555" stroke-width="0.8"/>
<line x1="19.90" y1="290.86" x2="22.30" y2="290.86" stroke="#555" stroke-width="0.8"/>
<line x1="19.90" y1="288.14" x2="22.30" y2="288.14" stroke="#555" stroke-width="0.8"/>
<line x1="18.70" y1="285.42" x2="22.30" y2="285.42" stroke="#555" stroke-width="0.8"/>
<text x="18.40" y="314.93" font-size="6.6" fill="#3a3a3a" stroke="#3a3a3a" stroke-width="0.09" text-anchor="end" textLength="2.8" lengthAdjust="spacingAndGlyphs">0</text>
<text x="18.40" y="301.33" font-size="6.6" fill="#3a3a3a" stroke="#3a3a3a" stroke-width="0.09" text-anchor="end" textLength="5.6" lengthAdjust="spacingAndGlyphs">50</text>
<text x="18.40" y="287.73" font-size="6.6" fill="#3a3a3a" stroke="#3a3a3a" stroke-width="0.09" text-anchor="end" textLength="8.3" lengthAdjust="spacingAndGlyphs">100</text>
<polygon points="117.6,312.6 117.6,310.9 118.4,309.5 120.0,305.7 120.4,305.0 120.9,304.5 121.3,304.5 121.6,304.8 123.3,288.7 123.6,286.3 124.0,285.4 124.3,286.0 124.7,288.3 126.0,303.3 126.7,308.6 127.1,310.4 127.5,311.6 128.0,312.3 128.8,312.6" fill="#c3c3c3" stroke="none"/>
<polyline points="22.3,312.6 41.3,312.6 42.2,312.4 43.4,311.4 43.8,311.3 45.3,312.4 46.0,312.6 52.7,312.6 53.8,312.3 54.8,311.2 55.3,311.0 55.7,311.2 56.9,312.4 58.0,312.6 81.4,312.6 82.5,312.3 84.0,311.3 85.5,312.3 86.5,312.6 97.3,312.6 98.1,312.4 99.6,311.3 100.0,311.4 101.3,312.4 101.9,312.6 102.8,312.3 104.1,310.7 104.5,310.4 104.9,310.7 106.0,312.2 106.6,312.5 107.2,312.3 108.3,311.4 108.7,311.3 110.2,312.4 110.8,312.6 114.2,312.6 115.7,312.4 116.7,311.9 117.6,310.9 120.5,304.8 121.2,304.5 121.6,304.7 123.3,288.6 123.7,286.1 123.9,285.5 124.1,285.5 124.8,289.0 126.0,303.4 126.7,308.5 127.5,311.6 128.1,312.3 128.8,312.6 134.5,312.6 135.1,312.3 136.4,310.6 136.8,310.5 138.3,312.2 138.9,312.5 139.8,312.2 141.2,310.7 141.7,310.9 142.9,312.3 144.0,312.6 193.6,312.6 194.7,312.4 195.9,310.9 196.4,310.7 196.8,310.9 198.1,312.4 199.3,312.6 206.1,312.6 206.7,312.3 208.2,311.3 209.7,312.3 210.7,312.6 226.2,312.6 227.0,312.3 228.5,311.3 230.0,312.3 230.6,312.6 235.9,312.6 236.9,312.4 238.2,311.2 238.6,311.0 239.0,311.2 240.3,312.4 241.4,312.6 246.6,312.6 247.3,312.3 248.8,311.3 250.2,312.3 251.3,312.6 275.8,312.6" fill="none" stroke="#a0a0a0" stroke-width="1.1" stroke-linejoin="round"/>
<line x1="117.62" y1="312.62" x2="117.62" y2="310.86" stroke="#3434e0" stroke-width="0.9900000000000001"/>
<line x1="117.62" y1="312.32" x2="128.77" y2="312.32" stroke="#3434e0" stroke-width="1.2100000000000002"/>
<path d="M116.12,312.72 Q116.12,310.92 117.62,310.92 Q119.12,310.92 119.12,312.72 Z" fill="#3434e0" fill-opacity="0.55" stroke="#3434e0" stroke-width="0.8800000000000001"/>
<path d="M127.27,312.72 Q127.27,310.92 128.77,310.92 Q130.27,310.92 130.27,312.72 Z" fill="#3434e0" fill-opacity="0.55" stroke="#3434e0" stroke-width="0.8800000000000001"/>
<text x="123.87" y="283.52" font-size="6.0" fill="#333" stroke="#333" stroke-width="0.09" text-anchor="middle" textLength="20.0" lengthAdjust="spacingAndGlyphs">RT: 6.01</text>
<text x="277.00" y="282.52" font-size="6.0" fill="#8a8a8a" stroke="#8a8a8a" stroke-width="0.09" textLength="26.3" lengthAdjust="spacingAndGlyphs" clip-path="url(#ctl)">NL: 1.00E5</text>
<text x="277.00" y="291.52" font-size="6.0" fill="#8a8a8a" stroke="#8a8a8a" stroke-width="0.09" textLength="90.8" lengthAdjust="spacingAndGlyphs" clip-path="url(#ctl)">m/z= 301.06919-301.07221 F: FTMS +</text>
<text x="277.00" y="299.02" font-size="6.0" fill="#8a8a8a" stroke="#8a8a8a" stroke-width="0.09" textLength="81.1" lengthAdjust="spacingAndGlyphs" clip-path="url(#ctl)">p ESI Full ms [100.0000-900.0000]</text>
<text x="277.00" y="306.52" font-size="6.0" fill="#8a8a8a" stroke="#8a8a8a" stroke-width="0.09" textLength="27.1" lengthAdjust="spacingAndGlyphs" clip-path="url(#ctl)">MS Kenevir</text>
<line x1="4.20" y1="338.00" x2="4.20" y2="800.00" stroke="#888" stroke-width="0.9"/>
<line x1="4.20" y1="348.50" x2="356.00" y2="348.50" stroke="#555" stroke-width="1"/>
<text x="5.40" y="342.55" font-size="5.0" fill="#4040b0" stroke="#4040b0" stroke-width="0.18" textLength="99.4" lengthAdjust="spacingAndGlyphs">G:\Q_Exactive_Yedek_20200623\...\Kenevir</text>
<text x="164.00" y="342.55" font-size="5.0" fill="#4040b0" stroke="#4040b0" stroke-width="0.18" textLength="41.0" lengthAdjust="spacingAndGlyphs">02/20/21 02:43:35</text>
<text x="5.4" y="355.4" font-size="7.4" fill="#3a3aa8" textLength="89.2" lengthAdjust="spacingAndGlyphs"><tspan fill="#333">RT:</tspan> 0.00 - 15.02   <tspan fill="#333">SM:</tspan> 15G</text>
<text x="12.00" y="548.41" font-size="6.9" fill="#2a2a2a" stroke="#2a2a2a" stroke-width="0.09" text-anchor="middle" textLength="59.2" lengthAdjust="spacingAndGlyphs" transform="rotate(-90 12 546)">Relative Abundance</text>
<line x1="34.20" y1="779.30" x2="281.25" y2="779.30" stroke="#555" stroke-width="1.0"/>
<line x1="34.20" y1="779.30" x2="34.20" y2="782.60" stroke="#555" stroke-width="0.9"/>
<line x1="42.44" y1="779.30" x2="42.44" y2="782.60" stroke="#555" stroke-width="0.9"/>
<line x1="50.67" y1="779.30" x2="50.67" y2="782.60" stroke="#555" stroke-width="0.9"/>
<line x1="58.91" y1="779.30" x2="58.91" y2="782.60" stroke="#555" stroke-width="0.9"/>
<line x1="67.14" y1="779.30" x2="67.14" y2="782.60" stroke="#555" stroke-width="0.9"/>
<line x1="75.38" y1="779.30" x2="75.38" y2="782.60" stroke="#555" stroke-width="0.9"/>
<line x1="83.61" y1="779.30" x2="83.61" y2="782.60" stroke="#555" stroke-width="0.9"/>
<line x1="91.84" y1="779.30" x2="91.84" y2="782.60" stroke="#555" stroke-width="0.9"/>
<line x1="100.08" y1="779.30" x2="100.08" y2="782.60" stroke="#555" stroke-width="0.9"/>
<line x1="108.31" y1="779.30" x2="108.31" y2="782.60" stroke="#555" stroke-width="0.9"/>
<line x1="116.55" y1="779.30" x2="116.55" y2="782.60" stroke="#555" stroke-width="0.9"/>
<line x1="124.78" y1="779.30" x2="124.78" y2="782.60" stroke="#555" stroke-width="0.9"/>
<line x1="133.02" y1="779.30" x2="133.02" y2="782.60" stroke="#555" stroke-width="0.9"/>
<line x1="141.25" y1="779.30" x2="141.25" y2="782.60" stroke="#555" stroke-width="0.9"/>
<line x1="149.49" y1="779.30" x2="149.49" y2="782.60" stroke="#555" stroke-width="0.9"/>
<line x1="157.72" y1="779.30" x2="157.72" y2="782.60" stroke="#555" stroke-width="0.9"/>
<line x1="165.96" y1="779.30" x2="165.96" y2="782.60" stroke="#555" stroke-width="0.9"/>
<line x1="174.19" y1="779.30" x2="174.19" y2="782.60" stroke="#555" stroke-width="0.9"/>
<line x1="182.43" y1="779.30" x2="182.43" y2="782.60" stroke="#555" stroke-width="0.9"/>
<line x1="190.66" y1="779.30" x2="190.66" y2="782.60" stroke="#555" stroke-width="0.9"/>
<line x1="198.90" y1="779.30" x2="198.90" y2="782.60" stroke="#555" stroke-width="0.9"/>
<line x1="207.13" y1="779.30" x2="207.13" y2="782.60" stroke="#555" stroke-width="0.9"/>
<line x1="215.37" y1="779.30" x2="215.37" y2="782.60" stroke="#555" stroke-width="0.9"/>
<line x1="223.60" y1="779.30" x2="223.60" y2="782.60" stroke="#555" stroke-width="0.9"/>
<line x1="231.84" y1="779.30" x2="231.84" y2="782.60" stroke="#555" stroke-width="0.9"/>
<line x1="240.07" y1="779.30" x2="240.07" y2="782.60" stroke="#555" stroke-width="0.9"/>
<line x1="248.31" y1="779.30" x2="248.31" y2="782.60" stroke="#555" stroke-width="0.9"/>
<line x1="256.54" y1="779.30" x2="256.54" y2="782.60" stroke="#555" stroke-width="0.9"/>
<line x1="264.78" y1="779.30" x2="264.78" y2="782.60" stroke="#555" stroke-width="0.9"/>
<line x1="273.01" y1="779.30" x2="273.01" y2="782.60" stroke="#555" stroke-width="0.9"/>
<line x1="281.25" y1="779.30" x2="281.25" y2="782.60" stroke="#555" stroke-width="0.9"/>
<text x="34.20" y="790.22" font-size="7.2" fill="#3a3a3a" stroke="#3a3a3a" stroke-width="0.09" text-anchor="middle">0</text>
<text x="67.14" y="790.22" font-size="7.2" fill="#3a3a3a" stroke="#3a3a3a" stroke-width="0.09" text-anchor="middle">2</text>
<text x="100.08" y="790.22" font-size="7.2" fill="#3a3a3a" stroke="#3a3a3a" stroke-width="0.09" text-anchor="middle">4</text>
<text x="133.02" y="790.22" font-size="7.2" fill="#3a3a3a" stroke="#3a3a3a" stroke-width="0.09" text-anchor="middle">6</text>
<text x="165.96" y="790.22" font-size="7.2" fill="#3a3a3a" stroke="#3a3a3a" stroke-width="0.09" text-anchor="middle">8</text>
<text x="198.90" y="790.22" font-size="7.2" fill="#3a3a3a" stroke="#3a3a3a" stroke-width="0.09" text-anchor="middle">10</text>
<text x="231.84" y="790.22" font-size="7.2" fill="#3a3a3a" stroke="#3a3a3a" stroke-width="0.09" text-anchor="middle">12</text>
<text x="264.78" y="790.22" font-size="7.2" fill="#3a3a3a" stroke="#3a3a3a" stroke-width="0.09" text-anchor="middle">14</text>
<text x="158.22" y="798.92" font-size="7.2" fill="#333" stroke="#333" stroke-width="0.09" text-anchor="middle">Time (min)</text>
<line x1="34.20" y1="364.90" x2="34.20" y2="410.20" stroke="#444" stroke-width="1.0"/>
<line x1="34.20" y1="409.70" x2="281.25" y2="409.70" stroke="#555" stroke-width="1.0"/>
<line x1="29.20" y1="409.70" x2="34.20" y2="409.70" stroke="#555" stroke-width="0.9"/>
<line x1="31.50" y1="405.27" x2="34.20" y2="405.27" stroke="#555" stroke-width="0.9"/>
<line x1="31.50" y1="400.84" x2="34.20" y2="400.84" stroke="#555" stroke-width="0.9"/>
<line x1="31.50" y1="396.41" x2="34.20" y2="396.41" stroke="#555" stroke-width="0.9"/>
<line x1="31.50" y1="391.98" x2="34.20" y2="391.98" stroke="#555" stroke-width="0.9"/>
<line x1="29.20" y1="387.55" x2="34.20" y2="387.55" stroke="#555" stroke-width="0.9"/>
<line x1="31.50" y1="383.12" x2="34.20" y2="383.12" stroke="#555" stroke-width="0.9"/>
<line x1="31.50" y1="378.69" x2="34.20" y2="378.69" stroke="#555" stroke-width="0.9"/>
<line x1="31.50" y1="374.26" x2="34.20" y2="374.26" stroke="#555" stroke-width="0.9"/>
<line x1="31.50" y1="369.83" x2="34.20" y2="369.83" stroke="#555" stroke-width="0.9"/>
<line x1="29.20" y1="365.40" x2="34.20" y2="365.40" stroke="#555" stroke-width="0.9"/>
<text x="28.90" y="412.22" font-size="7.2" fill="#3a3a3a" stroke="#3a3a3a" stroke-width="0.09" text-anchor="end">0</text>
<text x="28.90" y="390.07" font-size="7.2" fill="#3a3a3a" stroke="#3a3a3a" stroke-width="0.09" text-anchor="end">50</text>
<text x="28.90" y="367.92" font-size="7.2" fill="#3a3a3a" stroke="#3a3a3a" stroke-width="0.09" text-anchor="end">100</text>
<polygon points="66.3,409.7 66.3,408.3 66.8,405.3 67.2,400.2 68.6,370.6 68.9,366.7 69.1,365.4 69.4,366.6 69.7,370.7 71.1,399.9 71.6,405.2 72.1,408.1 72.1,409.7" fill="#c3c3c3" stroke="none"/>
<polyline points="34.2,409.7 64.5,409.7 65.3,409.6 65.9,409.2 66.5,407.3 67.1,401.6 68.6,370.6 69.0,365.7 69.2,365.5 69.6,369.3 70.8,395.3 71.5,404.1 71.9,407.2 72.3,408.7 72.7,409.3 73.3,409.6 281.2,409.7" fill="none" stroke="#b0b0b0" stroke-width="1.0" stroke-linejoin="round"/>
<line x1="66.32" y1="409.40" x2="72.08" y2="409.40" stroke="#3434e0" stroke-width="1.1"/>
<path d="M64.32,409.80 Q64.32,407.50 66.32,407.50 Q68.32,407.50 68.32,409.80 Z" fill="#3434e0" fill-opacity="0.55" stroke="#3434e0" stroke-width="0.8"/>
<path d="M70.08,409.80 Q70.08,407.50 72.08,407.50 Q74.08,407.50 74.08,409.80 Z" fill="#3434e0" fill-opacity="0.55" stroke="#3434e0" stroke-width="0.8"/>
<text x="69.12" y="363.95" font-size="7.3" fill="#333" stroke="#333" stroke-width="0.09" text-anchor="middle">RT: 2.12</text>
<text x="281.80" y="362.02" font-size="6.35" fill="#333333" stroke="#333333" stroke-width="0.09" textLength="32.8" lengthAdjust="spacingAndGlyphs" clip-path="url(#cbl)">NL: 1.07E4</text>
<text x="281.80" y="369.72" font-size="6.35" fill="#333333" stroke="#333333" stroke-width="0.09" textLength="80.3" lengthAdjust="spacingAndGlyphs" clip-path="url(#cbl)">m/z= 307.07966-307.08274</text>
<text x="281.80" y="376.92" font-size="6.35" fill="#333333" stroke="#333333" stroke-width="0.09" textLength="71.9" lengthAdjust="spacingAndGlyphs" clip-path="url(#cbl)">F: FTMS + p ESI Full ms</text>
<text x="281.80" y="383.62" font-size="6.35" fill="#333333" stroke="#333333" stroke-width="0.09" textLength="73.9" lengthAdjust="spacingAndGlyphs" clip-path="url(#cbl)">[100.0000-900.0000]  MS</text>
<text x="281.80" y="390.02" font-size="6.35" fill="#333333" stroke="#333333" stroke-width="0.09" textLength="22.2" lengthAdjust="spacingAndGlyphs" clip-path="url(#cbl)">Kenevir</text>
<line x1="34.20" y1="417.70" x2="34.20" y2="463.00" stroke="#444" stroke-width="1.0"/>
<line x1="34.20" y1="462.50" x2="281.25" y2="462.50" stroke="#555" stroke-width="1.0"/>
<line x1="29.20" y1="462.50" x2="34.20" y2="462.50" stroke="#555" stroke-width="0.9"/>
<line x1="31.50" y1="458.07" x2="34.20" y2="458.07" stroke="#555" stroke-width="0.9"/>
<line x1="31.50" y1="453.64" x2="34.20" y2="453.64" stroke="#555" stroke-width="0.9"/>
<line x1="31.50" y1="449.21" x2="34.20" y2="449.21" stroke="#555" stroke-width="0.9"/>
<line x1="31.50" y1="444.78" x2="34.20" y2="444.78" stroke="#555" stroke-width="0.9"/>
<line x1="29.20" y1="440.35" x2="34.20" y2="440.35" stroke="#555" stroke-width="0.9"/>
<line x1="31.50" y1="435.92" x2="34.20" y2="435.92" stroke="#555" stroke-width="0.9"/>
<line x1="31.50" y1="431.49" x2="34.20" y2="431.49" stroke="#555" stroke-width="0.9"/>
<line x1="31.50" y1="427.06" x2="34.20" y2="427.06" stroke="#555" stroke-width="0.9"/>
<line x1="31.50" y1="422.63" x2="34.20" y2="422.63" stroke="#555" stroke-width="0.9"/>
<line x1="29.20" y1="418.20" x2="34.20" y2="418.20" stroke="#555" stroke-width="0.9"/>
<text x="28.90" y="465.02" font-size="7.2" fill="#3a3a3a" stroke="#3a3a3a" stroke-width="0.09" text-anchor="end">0</text>
<text x="28.90" y="442.87" font-size="7.2" fill="#3a3a3a" stroke="#3a3a3a" stroke-width="0.09" text-anchor="end">50</text>
<text x="28.90" y="420.72" font-size="7.2" fill="#3a3a3a" stroke="#3a3a3a" stroke-width="0.09" text-anchor="end">100</text>
<polygon points="69.1,462.5 69.1,462.3 69.5,462.0 69.8,461.6 70.2,460.5 70.8,455.8 71.4,447.4 72.6,423.5 72.9,419.5 73.1,418.3 73.3,418.2 73.5,418.5 73.7,419.6 74.3,423.7 76.0,446.3 76.8,454.0 77.7,459.0 78.3,460.8 79.0,461.9 79.0,462.5" fill="#c3c3c3" stroke="none"/>
<polyline points="34.2,462.5 52.7,462.4 53.3,462.0 53.8,461.2 55.2,455.6 55.6,455.0 56.0,455.6 57.5,461.2 58.3,462.3 59.3,462.5 68.0,462.5 68.8,462.4 69.4,462.1 69.8,461.5 70.2,460.2 70.8,455.7 72.7,422.2 73.1,418.4 73.3,418.2 73.7,419.6 74.3,424.7 76.0,445.8 77.0,455.4 77.6,458.8 78.3,460.7 79.1,461.9 80.1,462.4 99.7,462.4 100.3,462.0 100.7,461.2 102.1,455.6 102.6,455.0 103.0,455.6 104.4,461.2 105.0,462.2 106.1,462.5 257.2,462.5 258.2,462.1 258.8,461.1 260.3,455.2 260.7,454.5 261.1,455.2 262.5,461.1 262.9,461.9 263.5,462.4 281.2,462.5" fill="none" stroke="#b05a5a" stroke-width="1.0" stroke-linejoin="round"/>
<line x1="69.12" y1="462.20" x2="79.00" y2="462.20" stroke="#3434e0" stroke-width="1.1"/>
<path d="M67.12,462.60 Q67.12,460.30 69.12,460.30 Q71.12,460.30 71.12,462.60 Z" fill="#3434e0" fill-opacity="0.55" stroke="#3434e0" stroke-width="0.8"/>
<path d="M77.00,462.60 Q77.00,460.30 79.00,460.30 Q81.00,460.30 81.00,462.60 Z" fill="#3434e0" fill-opacity="0.55" stroke="#3434e0" stroke-width="0.8"/>
<text x="73.23" y="416.75" font-size="7.3" fill="#333" stroke="#333" stroke-width="0.09" text-anchor="middle">RT: 2.37</text>
<text x="281.80" y="414.82" font-size="6.35" fill="#a03a3a" stroke="#a03a3a" stroke-width="0.09" textLength="32.8" lengthAdjust="spacingAndGlyphs" clip-path="url(#cbl)">NL: 2.30E3</text>
<text x="281.80" y="422.52" font-size="6.35" fill="#a03a3a" stroke="#a03a3a" stroke-width="0.09" textLength="80.3" lengthAdjust="spacingAndGlyphs" clip-path="url(#cbl)">m/z= 353.08603-353.08957</text>
<text x="281.80" y="429.72" font-size="6.35" fill="#a03a3a" stroke="#a03a3a" stroke-width="0.09" textLength="70.2" lengthAdjust="spacingAndGlyphs" clip-path="url(#cbl)">F: FTMS - p ESI Full ms</text>
<text x="281.80" y="436.42" font-size="6.35" fill="#a03a3a" stroke="#a03a3a" stroke-width="0.09" textLength="73.9" lengthAdjust="spacingAndGlyphs" clip-path="url(#cbl)">[100.0000-900.0000]  MS</text>
<text x="281.80" y="442.82" font-size="6.35" fill="#a03a3a" stroke="#a03a3a" stroke-width="0.09" textLength="22.2" lengthAdjust="spacingAndGlyphs" clip-path="url(#cbl)">Kenevir</text>
<line x1="34.20" y1="470.50" x2="34.20" y2="515.80" stroke="#444" stroke-width="1.0"/>
<line x1="34.20" y1="515.30" x2="281.25" y2="515.30" stroke="#555" stroke-width="1.0"/>
<line x1="29.20" y1="515.30" x2="34.20" y2="515.30" stroke="#555" stroke-width="0.9"/>
<line x1="31.50" y1="510.87" x2="34.20" y2="510.87" stroke="#555" stroke-width="0.9"/>
<line x1="31.50" y1="506.44" x2="34.20" y2="506.44" stroke="#555" stroke-width="0.9"/>
<line x1="31.50" y1="502.01" x2="34.20" y2="502.01" stroke="#555" stroke-width="0.9"/>
<line x1="31.50" y1="497.58" x2="34.20" y2="497.58" stroke="#555" stroke-width="0.9"/>
<line x1="29.20" y1="493.15" x2="34.20" y2="493.15" stroke="#555" stroke-width="0.9"/>
<line x1="31.50" y1="488.72" x2="34.20" y2="488.72" stroke="#555" stroke-width="0.9"/>
<line x1="31.50" y1="484.29" x2="34.20" y2="484.29" stroke="#555" stroke-width="0.9"/>
<line x1="31.50" y1="479.86" x2="34.20" y2="479.86" stroke="#555" stroke-width="0.9"/>
<line x1="31.50" y1="475.43" x2="34.20" y2="475.43" stroke="#555" stroke-width="0.9"/>
<line x1="29.20" y1="471.00" x2="34.20" y2="471.00" stroke="#555" stroke-width="0.9"/>
<text x="28.90" y="517.82" font-size="7.2" fill="#3a3a3a" stroke="#3a3a3a" stroke-width="0.09" text-anchor="end">0</text>
<text x="28.90" y="495.67" font-size="7.2" fill="#3a3a3a" stroke="#3a3a3a" stroke-width="0.09" text-anchor="end">50</text>
<text x="28.90" y="473.52" font-size="7.2" fill="#3a3a3a" stroke="#3a3a3a" stroke-width="0.09" text-anchor="end">100</text>
<polygon points="107.0,515.3 107.0,508.7 109.5,505.3 109.9,504.4 110.4,501.7 111.4,493.1 111.9,490.4 113.5,483.8 115.3,474.9 116.1,472.3 116.5,471.6 116.9,471.4 117.3,471.6 117.5,472.1 118.0,473.9 122.5,501.7 123.8,506.2 125.0,509.8 125.8,511.3 125.8,515.3" fill="#c3c3c3" stroke="none"/>
<polyline points="34.2,515.3 34.8,514.2 36.9,512.4 38.5,509.8 39.3,508.9 39.8,508.8 40.2,509.1 41.6,511.6 42.6,512.6 43.9,513.5 44.9,513.7 46.1,513.4 47.8,512.1 49.6,509.1 50.5,508.5 51.3,509.2 52.5,511.5 53.6,515.0 54.2,513.6 55.8,506.5 56.2,505.4 56.6,505.0 57.3,506.4 58.7,513.1 59.3,514.5 59.9,515.0 60.8,514.9 61.6,514.6 65.5,511.6 66.3,511.4 66.9,511.9 68.2,514.5 68.6,515.0 68.8,515.0 69.6,513.6 71.1,509.3 71.7,508.0 72.1,507.9 73.1,509.9 73.5,510.2 73.9,509.9 75.2,507.5 75.6,507.3 76.2,508.2 77.4,511.7 78.3,512.6 80.1,512.6 81.3,512.2 82.2,511.6 84.0,509.7 85.3,508.8 86.1,508.5 86.9,508.8 88.6,510.7 90.4,512.3 91.2,512.6 92.3,512.7 93.1,512.3 93.7,511.5 97.0,503.8 97.6,502.7 98.0,502.4 98.4,502.6 98.8,503.1 101.3,508.4 101.5,508.6 101.9,508.6 103.0,507.4 103.4,507.3 104.0,508.1 105.2,510.6 105.6,511.1 105.8,511.1 106.9,508.9 109.6,505.2 110.0,504.1 111.8,490.8 113.5,484.0 115.3,474.7 116.1,472.3 116.5,471.6 117.0,471.4 117.6,472.2 118.0,473.8 122.1,499.6 123.1,504.2 124.8,509.2 125.6,511.0 126.2,511.8 127.5,512.7 128.7,515.0 129.1,515.3 239.3,515.3 240.1,513.1 241.3,512.7 242.5,513.1 243.8,515.1 244.2,515.3 244.8,514.7 246.0,512.3 246.7,511.8 247.3,512.1 248.5,513.9 249.1,514.4 249.8,514.2 251.0,512.9 251.6,512.6 252.2,513.0 253.5,514.2 254.1,514.4 254.9,513.8 256.8,511.3 257.6,510.8 259.8,512.6 260.7,512.6 262.3,511.9 263.1,511.8 266.2,513.0 267.0,513.1 269.7,512.6 272.6,513.6 273.4,513.3 275.5,510.5 276.3,510.0 276.7,510.4 278.0,513.1 279.6,514.5 281.2,515.3" fill="none" stroke="#3f9f3f" stroke-width="1.0" stroke-linejoin="round"/>
<line x1="107.00" y1="515.30" x2="107.00" y2="508.65" stroke="#3434e0" stroke-width="0.9"/>
<line x1="125.77" y1="515.30" x2="125.77" y2="511.31" stroke="#3434e0" stroke-width="0.9"/>
<line x1="107.00" y1="515.00" x2="125.77" y2="515.00" stroke="#3434e0" stroke-width="1.1"/>
<path d="M105.00,515.40 Q105.00,513.10 107.00,513.10 Q109.00,513.10 109.00,515.40 Z" fill="#3434e0" fill-opacity="0.55" stroke="#3434e0" stroke-width="0.8"/>
<path d="M123.77,515.40 Q123.77,513.10 125.77,513.10 Q127.77,513.10 127.77,515.40 Z" fill="#3434e0" fill-opacity="0.55" stroke="#3434e0" stroke-width="0.8"/>
<text x="116.39" y="469.55" font-size="7.3" fill="#333" stroke="#333" stroke-width="0.09" text-anchor="middle">RT: 4.99</text>
<text x="281.80" y="467.62" font-size="6.35" fill="#3a8a3a" stroke="#3a8a3a" stroke-width="0.09" textLength="32.8" lengthAdjust="spacingAndGlyphs" clip-path="url(#cbl)">NL: 6.04E3</text>
<text x="281.80" y="475.32" font-size="6.35" fill="#3a8a3a" stroke="#3a8a3a" stroke-width="0.09" textLength="80.3" lengthAdjust="spacingAndGlyphs" clip-path="url(#cbl)">m/z= 447.09106-447.09554</text>
<text x="281.80" y="482.52" font-size="6.35" fill="#3a8a3a" stroke="#3a8a3a" stroke-width="0.09" textLength="70.2" lengthAdjust="spacingAndGlyphs" clip-path="url(#cbl)">F: FTMS - p ESI Full ms</text>
<text x="281.80" y="489.22" font-size="6.35" fill="#3a8a3a" stroke="#3a8a3a" stroke-width="0.09" textLength="73.9" lengthAdjust="spacingAndGlyphs" clip-path="url(#cbl)">[100.0000-900.0000]  MS</text>
<text x="281.80" y="495.62" font-size="6.35" fill="#3a8a3a" stroke="#3a8a3a" stroke-width="0.09" textLength="22.2" lengthAdjust="spacingAndGlyphs" clip-path="url(#cbl)">Kenevir</text>
<line x1="34.20" y1="523.30" x2="34.20" y2="568.60" stroke="#444" stroke-width="1.0"/>
<line x1="34.20" y1="568.10" x2="281.25" y2="568.10" stroke="#555" stroke-width="1.0"/>
<line x1="29.20" y1="568.10" x2="34.20" y2="568.10" stroke="#555" stroke-width="0.9"/>
<line x1="31.50" y1="563.67" x2="34.20" y2="563.67" stroke="#555" stroke-width="0.9"/>
<line x1="31.50" y1="559.24" x2="34.20" y2="559.24" stroke="#555" stroke-width="0.9"/>
<line x1="31.50" y1="554.81" x2="34.20" y2="554.81" stroke="#555" stroke-width="0.9"/>
<line x1="31.50" y1="550.38" x2="34.20" y2="550.38" stroke="#555" stroke-width="0.9"/>
<line x1="29.20" y1="545.95" x2="34.20" y2="545.95" stroke="#555" stroke-width="0.9"/>
<line x1="31.50" y1="541.52" x2="34.20" y2="541.52" stroke="#555" stroke-width="0.9"/>
<line x1="31.50" y1="537.09" x2="34.20" y2="537.09" stroke="#555" stroke-width="0.9"/>
<line x1="31.50" y1="532.66" x2="34.20" y2="532.66" stroke="#555" stroke-width="0.9"/>
<line x1="31.50" y1="528.23" x2="34.20" y2="528.23" stroke="#555" stroke-width="0.9"/>
<line x1="29.20" y1="523.80" x2="34.20" y2="523.80" stroke="#555" stroke-width="0.9"/>
<text x="28.90" y="570.62" font-size="7.2" fill="#3a3a3a" stroke="#3a3a3a" stroke-width="0.09" text-anchor="end">0</text>
<text x="28.90" y="548.47" font-size="7.2" fill="#3a3a3a" stroke="#3a3a3a" stroke-width="0.09" text-anchor="end">50</text>
<text x="28.90" y="526.32" font-size="7.2" fill="#3a3a3a" stroke="#3a3a3a" stroke-width="0.09" text-anchor="end">100</text>
<polygon points="98.9,568.1 98.9,567.2 99.3,566.1 99.7,564.1 100.2,559.1 101.7,529.4 102.1,525.3 102.4,523.8 102.6,524.0 102.8,525.0 103.3,529.2 105.0,552.4 105.9,561.2 106.4,564.2 106.9,566.0 107.4,567.2 107.8,567.6 108.3,567.9 108.3,568.1" fill="#c3c3c3" stroke="none"/>
<polyline points="34.2,568.1 96.8,568.1 98.4,567.8 99.1,566.9 99.5,565.4 100.1,560.3 101.7,529.7 102.3,523.8 102.6,524.0 102.8,524.7 103.4,529.9 105.0,552.7 105.8,560.9 106.9,566.0 107.5,567.3 108.5,568.0 111.2,568.1 281.2,568.1" fill="none" stroke="#4a4ac8" stroke-width="1.0" stroke-linejoin="round"/>
<line x1="98.93" y1="567.80" x2="108.31" y2="567.80" stroke="#3434e0" stroke-width="1.1"/>
<path d="M96.93,568.20 Q96.93,565.90 98.93,565.90 Q100.93,565.90 100.93,568.20 Z" fill="#3434e0" fill-opacity="0.55" stroke="#3434e0" stroke-width="0.8"/>
<path d="M106.31,568.20 Q106.31,565.90 108.31,565.90 Q110.31,565.90 110.31,568.20 Z" fill="#3434e0" fill-opacity="0.55" stroke="#3434e0" stroke-width="0.8"/>
<text x="102.72" y="522.35" font-size="7.3" fill="#333" stroke="#333" stroke-width="0.09" text-anchor="middle">RT: 4.16</text>
<text x="281.80" y="520.42" font-size="6.35" fill="#3a3aa0" stroke="#3a3aa0" stroke-width="0.09" textLength="32.8" lengthAdjust="spacingAndGlyphs" clip-path="url(#cbl)">NL: 1.57E3</text>
<text x="281.80" y="528.12" font-size="6.35" fill="#3a3aa0" stroke="#3a3aa0" stroke-width="0.09" textLength="80.3" lengthAdjust="spacingAndGlyphs" clip-path="url(#cbl)">m/z= 359.07540-359.07900</text>
<text x="281.80" y="535.32" font-size="6.35" fill="#3a3aa0" stroke="#3a3aa0" stroke-width="0.09" textLength="70.2" lengthAdjust="spacingAndGlyphs" clip-path="url(#cbl)">F: FTMS - p ESI Full ms</text>
<text x="281.80" y="542.02" font-size="6.35" fill="#3a3aa0" stroke="#3a3aa0" stroke-width="0.09" textLength="73.9" lengthAdjust="spacingAndGlyphs" clip-path="url(#cbl)">[100.0000-900.0000]  MS</text>
<text x="281.80" y="548.42" font-size="6.35" fill="#3a3aa0" stroke="#3a3aa0" stroke-width="0.09" textLength="22.2" lengthAdjust="spacingAndGlyphs" clip-path="url(#cbl)">Kenevir</text>
<line x1="34.20" y1="576.10" x2="34.20" y2="621.40" stroke="#444" stroke-width="1.0"/>
<line x1="34.20" y1="620.90" x2="281.25" y2="620.90" stroke="#555" stroke-width="1.0"/>
<line x1="29.20" y1="620.90" x2="34.20" y2="620.90" stroke="#555" stroke-width="0.9"/>
<line x1="31.50" y1="616.47" x2="34.20" y2="616.47" stroke="#555" stroke-width="0.9"/>
<line x1="31.50" y1="612.04" x2="34.20" y2="612.04" stroke="#555" stroke-width="0.9"/>
<line x1="31.50" y1="607.61" x2="34.20" y2="607.61" stroke="#555" stroke-width="0.9"/>
<line x1="31.50" y1="603.18" x2="34.20" y2="603.18" stroke="#555" stroke-width="0.9"/>
<line x1="29.20" y1="598.75" x2="34.20" y2="598.75" stroke="#555" stroke-width="0.9"/>
<line x1="31.50" y1="594.32" x2="34.20" y2="594.32" stroke="#555" stroke-width="0.9"/>
<line x1="31.50" y1="589.89" x2="34.20" y2="589.89" stroke="#555" stroke-width="0.9"/>
<line x1="31.50" y1="585.46" x2="34.20" y2="585.46" stroke="#555" stroke-width="0.9"/>
<line x1="31.50" y1="581.03" x2="34.20" y2="581.03" stroke="#555" stroke-width="0.9"/>
<line x1="29.20" y1="576.60" x2="34.20" y2="576.60" stroke="#555" stroke-width="0.9"/>
<text x="28.90" y="623.42" font-size="7.2" fill="#3a3a3a" stroke="#3a3a3a" stroke-width="0.09" text-anchor="end">0</text>
<text x="28.90" y="601.27" font-size="7.2" fill="#3a3a3a" stroke="#3a3a3a" stroke-width="0.09" text-anchor="end">50</text>
<text x="28.90" y="579.12" font-size="7.2" fill="#3a3a3a" stroke="#3a3a3a" stroke-width="0.09" text-anchor="end">100</text>
<polygon points="117.9,620.9 117.9,609.4 120.0,606.1 121.5,602.7 122.4,599.4 123.5,594.2 124.9,585.6 125.4,583.3 125.9,582.1 127.0,580.4 128.3,577.2 128.6,576.6 129.0,576.6 129.5,576.8 129.9,577.4 130.3,578.5 130.6,580.1 132.3,593.6 133.1,599.7 133.8,603.1 134.3,604.8 134.8,606.0 136.6,608.5 136.6,620.9" fill="#c3c3c3" stroke="none"/>
<polyline points="34.2,620.9 34.4,620.3 35.2,619.6 36.3,619.0 39.1,618.4 43.7,618.0 47.8,618.0 52.9,618.6 55.4,618.7 85.5,617.6 93.3,617.8 96.8,617.1 99.5,618.0 100.3,618.0 103.8,616.4 111.0,615.4 112.8,614.8 114.5,613.6 116.1,611.8 119.4,607.1 120.9,604.3 121.7,602.1 122.7,597.9 125.4,583.2 125.8,582.2 127.0,580.3 128.3,577.1 128.9,576.6 129.3,576.7 129.7,577.1 130.5,579.7 132.6,596.1 133.4,601.4 134.0,604.2 135.1,606.5 136.5,608.3 138.2,611.1 138.8,611.6 139.8,611.6 142.3,610.4 143.3,610.3 143.9,610.5 145.8,612.0 146.6,612.1 147.4,611.3 149.5,607.4 150.5,606.2 151.1,606.6 152.0,607.9 153.8,611.5 154.8,612.4 155.9,612.9 156.7,612.9 157.5,612.7 161.2,609.8 162.5,609.4 163.1,609.6 164.7,611.7 165.3,612.1 166.4,612.4 167.8,612.5 168.8,612.5 169.9,612.0 170.3,612.1 173.2,614.2 174.0,614.1 175.6,612.7 176.5,612.5 177.5,612.8 180.8,614.7 181.4,614.7 183.0,613.9 183.7,613.8 184.5,614.1 186.5,615.4 187.6,615.6 188.4,615.3 190.3,612.1 190.9,611.6 191.5,612.1 193.1,616.2 193.5,616.8 194.0,617.1 194.8,617.1 195.6,616.5 196.6,615.7 198.5,613.3 199.1,612.9 199.5,612.9 200.3,613.3 201.8,614.7 205.3,618.9 206.7,619.9 207.8,619.7 209.8,618.3 210.8,618.0 213.5,618.8 215.2,618.9 217.8,618.8 219.7,618.3 220.5,618.3 225.3,619.3 230.0,618.7 235.1,619.6 239.9,618.9 244.8,619.6 250.0,619.1 254.7,619.6 259.8,618.9 265.0,619.8 269.7,619.1 273.4,619.6 274.7,619.6 275.5,619.3 277.8,618.0 278.8,617.8 279.4,618.1 281.0,619.9 281.2,620.9" fill="none" stroke="#9c9c50" stroke-width="1.0" stroke-linejoin="round"/>
<line x1="117.87" y1="620.90" x2="117.87" y2="609.38" stroke="#3434e0" stroke-width="0.9"/>
<line x1="136.64" y1="620.90" x2="136.64" y2="608.50" stroke="#3434e0" stroke-width="0.9"/>
<line x1="117.87" y1="620.60" x2="136.64" y2="620.60" stroke="#3434e0" stroke-width="1.1"/>
<path d="M115.87,621.00 Q115.87,618.70 117.87,618.70 Q119.87,618.70 119.87,621.00 Z" fill="#3434e0" fill-opacity="0.55" stroke="#3434e0" stroke-width="0.8"/>
<path d="M134.64,621.00 Q134.64,618.70 136.64,618.70 Q138.64,618.70 138.64,621.00 Z" fill="#3434e0" fill-opacity="0.55" stroke="#3434e0" stroke-width="0.8"/>
<text x="128.90" y="575.15" font-size="7.3" fill="#333" stroke="#333" stroke-width="0.09" text-anchor="middle">RT: 5.75</text>
<text x="281.80" y="573.22" font-size="6.35" fill="#8a8a30" stroke="#8a8a30" stroke-width="0.09" textLength="32.8" lengthAdjust="spacingAndGlyphs" clip-path="url(#cbl)">NL: 4.69E4</text>
<text x="281.80" y="580.92" font-size="6.35" fill="#8a8a30" stroke="#8a8a30" stroke-width="0.09" textLength="80.3" lengthAdjust="spacingAndGlyphs" clip-path="url(#cbl)">m/z= 271.05984-271.06256</text>
<text x="281.80" y="588.12" font-size="6.35" fill="#8a8a30" stroke="#8a8a30" stroke-width="0.09" textLength="70.2" lengthAdjust="spacingAndGlyphs" clip-path="url(#cbl)">F: FTMS - p ESI Full ms</text>
<text x="281.80" y="594.82" font-size="6.35" fill="#8a8a30" stroke="#8a8a30" stroke-width="0.09" textLength="73.9" lengthAdjust="spacingAndGlyphs" clip-path="url(#cbl)">[100.0000-900.0000]  MS</text>
<text x="281.80" y="601.22" font-size="6.35" fill="#8a8a30" stroke="#8a8a30" stroke-width="0.09" textLength="22.2" lengthAdjust="spacingAndGlyphs" clip-path="url(#cbl)">Kenevir</text>
<line x1="34.20" y1="628.90" x2="34.20" y2="674.20" stroke="#444" stroke-width="1.0"/>
<line x1="34.20" y1="673.70" x2="281.25" y2="673.70" stroke="#555" stroke-width="1.0"/>
<line x1="29.20" y1="673.70" x2="34.20" y2="673.70" stroke="#555" stroke-width="0.9"/>
<line x1="31.50" y1="669.27" x2="34.20" y2="669.27" stroke="#555" stroke-width="0.9"/>
<line x1="31.50" y1="664.84" x2="34.20" y2="664.84" stroke="#555" stroke-width="0.9"/>
<line x1="31.50" y1="660.41" x2="34.20" y2="660.41" stroke="#555" stroke-width="0.9"/>
<line x1="31.50" y1="655.98" x2="34.20" y2="655.98" stroke="#555" stroke-width="0.9"/>
<line x1="29.20" y1="651.55" x2="34.20" y2="651.55" stroke="#555" stroke-width="0.9"/>
<line x1="31.50" y1="647.12" x2="34.20" y2="647.12" stroke="#555" stroke-width="0.9"/>
<line x1="31.50" y1="642.69" x2="34.20" y2="642.69" stroke="#555" stroke-width="0.9"/>
<line x1="31.50" y1="638.26" x2="34.20" y2="638.26" stroke="#555" stroke-width="0.9"/>
<line x1="31.50" y1="633.83" x2="34.20" y2="633.83" stroke="#555" stroke-width="0.9"/>
<line x1="29.20" y1="629.40" x2="34.20" y2="629.40" stroke="#555" stroke-width="0.9"/>
<text x="28.90" y="676.22" font-size="7.2" fill="#3a3a3a" stroke="#3a3a3a" stroke-width="0.09" text-anchor="end">0</text>
<text x="28.90" y="654.07" font-size="7.2" fill="#3a3a3a" stroke="#3a3a3a" stroke-width="0.09" text-anchor="end">50</text>
<text x="28.90" y="631.92" font-size="7.2" fill="#3a3a3a" stroke="#3a3a3a" stroke-width="0.09" text-anchor="end">100</text>
<polygon points="116.4,673.7 116.4,670.6 117.6,668.7 118.2,668.0 118.7,667.6 119.3,667.6 120.4,668.0 121.1,667.9 121.6,667.2 122.0,665.9 123.0,660.1 124.0,653.9 124.6,648.1 125.8,633.9 126.3,630.2 126.6,629.4 126.7,629.4 127.1,630.5 127.5,632.6 129.7,649.7 130.8,656.2 131.8,661.8 132.5,664.5 133.1,666.7 134.9,671.2 136.0,673.0 136.0,673.7" fill="#c3c3c3" stroke="none"/>
<polyline points="34.2,673.7 114.9,673.7 116.3,670.7 118.0,668.2 118.8,667.6 120.5,668.1 121.1,667.9 121.5,667.5 121.9,666.3 122.9,660.8 124.0,653.9 124.6,648.6 125.8,633.7 126.2,630.6 126.6,629.4 127.0,630.3 127.5,632.4 129.7,649.8 131.0,657.4 132.2,663.5 133.2,667.0 135.1,671.5 135.9,672.9 136.9,673.6 137.5,673.7 143.7,673.6 144.3,673.3 145.8,671.5 146.2,671.7 147.4,673.3 148.5,673.7 160.8,673.7 161.6,673.3 163.1,671.5 163.5,671.7 164.7,673.3 165.3,673.6 173.8,673.7 175.2,673.5 176.0,672.8 176.7,671.3 178.5,661.0 178.9,659.7 179.1,659.5 179.3,659.7 179.8,661.0 181.6,671.3 182.4,673.1 183.5,673.6 195.4,673.7 196.2,673.3 197.7,671.5 198.1,671.7 199.3,673.3 200.5,673.7 281.2,673.7" fill="none" stroke="#b040b0" stroke-width="1.0" stroke-linejoin="round"/>
<line x1="116.39" y1="673.70" x2="116.39" y2="670.60" stroke="#3434e0" stroke-width="0.9"/>
<line x1="116.39" y1="671.49" x2="135.98" y2="673.04" stroke="#3434e0" stroke-width="1.0"/>
<path d="M114.39,673.80 Q114.39,671.50 116.39,671.50 Q118.39,671.50 118.39,673.80 Z" fill="#3434e0" fill-opacity="0.55" stroke="#3434e0" stroke-width="0.8"/>
<path d="M133.98,673.80 Q133.98,671.50 135.98,671.50 Q137.98,671.50 137.98,673.80 Z" fill="#3434e0" fill-opacity="0.55" stroke="#3434e0" stroke-width="0.8"/>
<text x="126.60" y="627.96" font-size="7.3" fill="#333" stroke="#333" stroke-width="0.09" text-anchor="middle">RT: 5.61</text>
<text x="281.80" y="626.02" font-size="6.35" fill="#a030a0" stroke="#a030a0" stroke-width="0.09" textLength="32.8" lengthAdjust="spacingAndGlyphs" clip-path="url(#cbl)">NL: 2.52E4</text>
<text x="281.80" y="633.72" font-size="6.35" fill="#a030a0" stroke="#a030a0" stroke-width="0.09" textLength="80.3" lengthAdjust="spacingAndGlyphs" clip-path="url(#cbl)">m/z= 285.03907-285.04193</text>
<text x="281.80" y="640.92" font-size="6.35" fill="#a030a0" stroke="#a030a0" stroke-width="0.09" textLength="70.2" lengthAdjust="spacingAndGlyphs" clip-path="url(#cbl)">F: FTMS - p ESI Full ms</text>
<text x="281.80" y="647.62" font-size="6.35" fill="#a030a0" stroke="#a030a0" stroke-width="0.09" textLength="73.9" lengthAdjust="spacingAndGlyphs" clip-path="url(#cbl)">[100.0000-900.0000]  MS</text>
<text x="281.80" y="654.02" font-size="6.35" fill="#a030a0" stroke="#a030a0" stroke-width="0.09" textLength="22.2" lengthAdjust="spacingAndGlyphs" clip-path="url(#cbl)">Kenevir</text>
<line x1="34.20" y1="681.70" x2="34.20" y2="727.00" stroke="#444" stroke-width="1.0"/>
<line x1="34.20" y1="726.50" x2="281.25" y2="726.50" stroke="#555" stroke-width="1.0"/>
<line x1="29.20" y1="726.50" x2="34.20" y2="726.50" stroke="#555" stroke-width="0.9"/>
<line x1="31.50" y1="722.07" x2="34.20" y2="722.07" stroke="#555" stroke-width="0.9"/>
<line x1="31.50" y1="717.64" x2="34.20" y2="717.64" stroke="#555" stroke-width="0.9"/>
<line x1="31.50" y1="713.21" x2="34.20" y2="713.21" stroke="#555" stroke-width="0.9"/>
<line x1="31.50" y1="708.78" x2="34.20" y2="708.78" stroke="#555" stroke-width="0.9"/>
<line x1="29.20" y1="704.35" x2="34.20" y2="704.35" stroke="#555" stroke-width="0.9"/>
<line x1="31.50" y1="699.92" x2="34.20" y2="699.92" stroke="#555" stroke-width="0.9"/>
<line x1="31.50" y1="695.49" x2="34.20" y2="695.49" stroke="#555" stroke-width="0.9"/>
<line x1="31.50" y1="691.06" x2="34.20" y2="691.06" stroke="#555" stroke-width="0.9"/>
<line x1="31.50" y1="686.63" x2="34.20" y2="686.63" stroke="#555" stroke-width="0.9"/>
<line x1="29.20" y1="682.20" x2="34.20" y2="682.20" stroke="#555" stroke-width="0.9"/>
<text x="28.90" y="729.02" font-size="7.2" fill="#3a3a3a" stroke="#3a3a3a" stroke-width="0.09" text-anchor="end">0</text>
<text x="28.90" y="706.87" font-size="7.2" fill="#3a3a3a" stroke="#3a3a3a" stroke-width="0.09" text-anchor="end">50</text>
<text x="28.90" y="684.72" font-size="7.2" fill="#3a3a3a" stroke="#3a3a3a" stroke-width="0.09" text-anchor="end">100</text>
<polygon points="128.7,726.5 128.7,715.0 129.2,712.8 129.6,708.8 131.9,685.2 132.2,683.0 132.5,682.2 132.7,682.5 132.9,683.4 133.5,687.4 135.1,704.5 135.7,709.5 137.1,719.2 137.4,720.6 137.5,720.8 137.6,720.7 137.6,726.5" fill="#c3c3c3" stroke="none"/>
<polyline points="34.2,726.5 109.1,726.5 110.4,725.8 115.1,725.8 117.0,725.5 117.8,725.0 119.4,723.3 120.3,723.0 123.3,718.7 126.2,715.4 127.0,715.0 128.1,715.8 128.5,715.5 128.7,715.1 129.5,709.8 132.0,684.7 132.4,682.4 132.6,682.3 133.0,683.9 133.8,690.6 135.5,708.1 137.1,719.5 137.5,720.8 138.2,718.5 142.1,690.3 143.1,684.9 143.5,683.6 143.7,683.5 144.1,684.1 144.5,685.4 145.2,688.8 147.4,711.3 148.0,715.0 148.7,717.3 149.1,718.1 149.5,718.4 153.4,719.0 156.3,720.6 157.9,721.1 159.2,721.4 160.2,721.2 161.0,720.8 161.8,719.8 162.9,718.0 164.1,713.3 164.7,711.7 165.1,710.9 165.5,710.7 166.2,711.6 166.8,713.2 168.2,718.4 170.1,722.3 170.9,723.4 171.9,724.3 173.2,724.9 174.4,725.1 175.2,725.1 177.1,724.1 177.9,723.9 178.3,724.1 179.5,725.6 180.0,725.8 180.6,725.6 181.6,724.8 182.2,724.5 182.8,724.7 184.5,726.1 186.1,726.3 188.0,726.1 189.8,724.5 190.5,724.3 191.3,724.6 192.9,726.0 194.0,726.5 281.2,726.5" fill="none" stroke="#3fa0a0" stroke-width="1.0" stroke-linejoin="round"/>
<line x1="42.76" y1="726.30" x2="45.56" y2="726.30" stroke="#2f6f6f" stroke-width="1.1"/>
<line x1="48.53" y1="726.30" x2="53.63" y2="726.30" stroke="#2f6f6f" stroke-width="1.1"/>
<line x1="74.88" y1="726.30" x2="79.16" y2="726.30" stroke="#2f6f6f" stroke-width="1.1"/>
<line x1="81.47" y1="726.30" x2="84.27" y2="726.30" stroke="#2f6f6f" stroke-width="1.1"/>
<line x1="90.20" y1="726.30" x2="93.16" y2="726.30" stroke="#2f6f6f" stroke-width="1.1"/>
<line x1="102.55" y1="726.30" x2="106.17" y2="726.30" stroke="#2f6f6f" stroke-width="1.1"/>
<line x1="109.96" y1="726.30" x2="112.10" y2="726.30" stroke="#2f6f6f" stroke-width="1.1"/>
<line x1="202.03" y1="726.30" x2="211.58" y2="726.30" stroke="#2f6f6f" stroke-width="1.1"/>
<line x1="216.36" y1="726.30" x2="221.13" y2="726.30" stroke="#2f6f6f" stroke-width="1.1"/>
<line x1="223.60" y1="726.30" x2="242.87" y2="726.30" stroke="#2f6f6f" stroke-width="1.1"/>
<line x1="245.35" y1="726.30" x2="252.59" y2="726.30" stroke="#2f6f6f" stroke-width="1.1"/>
<line x1="257.37" y1="726.30" x2="262.14" y2="726.30" stroke="#2f6f6f" stroke-width="1.1"/>
<line x1="266.92" y1="726.30" x2="280.92" y2="726.30" stroke="#2f6f6f" stroke-width="1.1"/>
<line x1="128.74" y1="726.50" x2="128.74" y2="714.98" stroke="#3434e0" stroke-width="0.9"/>
<line x1="137.63" y1="726.50" x2="137.63" y2="720.74" stroke="#3434e0" stroke-width="0.9"/>
<line x1="128.74" y1="726.20" x2="137.63" y2="726.20" stroke="#3434e0" stroke-width="1.1"/>
<path d="M126.74,726.60 Q126.74,724.30 128.74,724.30 Q130.74,724.30 130.74,726.60 Z" fill="#3434e0" fill-opacity="0.55" stroke="#3434e0" stroke-width="0.8"/>
<path d="M135.63,726.60 Q135.63,724.30 137.63,724.30 Q139.63,724.30 139.63,726.60 Z" fill="#3434e0" fill-opacity="0.55" stroke="#3434e0" stroke-width="0.8"/>
<text x="132.36" y="680.75" font-size="7.3" fill="#333" stroke="#333" stroke-width="0.09" text-anchor="middle">RT: 5.96</text>
<text x="281.80" y="678.82" font-size="6.35" fill="#308a8a" stroke="#308a8a" stroke-width="0.09" textLength="32.8" lengthAdjust="spacingAndGlyphs" clip-path="url(#cbl)">NL: 4.46E4</text>
<text x="281.80" y="686.52" font-size="6.35" fill="#308a8a" stroke="#308a8a" stroke-width="0.09" textLength="80.3" lengthAdjust="spacingAndGlyphs" clip-path="url(#cbl)">m/z= 269.04425-269.04695</text>
<text x="281.80" y="693.72" font-size="6.35" fill="#308a8a" stroke="#308a8a" stroke-width="0.09" textLength="70.2" lengthAdjust="spacingAndGlyphs" clip-path="url(#cbl)">F: FTMS - p ESI Full ms</text>
<text x="281.80" y="700.42" font-size="6.35" fill="#308a8a" stroke="#308a8a" stroke-width="0.09" textLength="73.9" lengthAdjust="spacingAndGlyphs" clip-path="url(#cbl)">[100.0000-900.0000]  MS</text>
<text x="281.80" y="706.82" font-size="6.35" fill="#308a8a" stroke="#308a8a" stroke-width="0.09" textLength="22.2" lengthAdjust="spacingAndGlyphs" clip-path="url(#cbl)">Kenevir</text>
<line x1="34.20" y1="734.50" x2="34.20" y2="779.80" stroke="#444" stroke-width="1.0"/>
<line x1="29.20" y1="779.30" x2="34.20" y2="779.30" stroke="#555" stroke-width="0.9"/>
<line x1="31.50" y1="774.87" x2="34.20" y2="774.87" stroke="#555" stroke-width="0.9"/>
<line x1="31.50" y1="770.44" x2="34.20" y2="770.44" stroke="#555" stroke-width="0.9"/>
<line x1="31.50" y1="766.01" x2="34.20" y2="766.01" stroke="#555" stroke-width="0.9"/>
<line x1="31.50" y1="761.58" x2="34.20" y2="761.58" stroke="#555" stroke-width="0.9"/>
<line x1="29.20" y1="757.15" x2="34.20" y2="757.15" stroke="#555" stroke-width="0.9"/>
<line x1="31.50" y1="752.72" x2="34.20" y2="752.72" stroke="#555" stroke-width="0.9"/>
<line x1="31.50" y1="748.29" x2="34.20" y2="748.29" stroke="#555" stroke-width="0.9"/>
<line x1="31.50" y1="743.86" x2="34.20" y2="743.86" stroke="#555" stroke-width="0.9"/>
<line x1="31.50" y1="739.43" x2="34.20" y2="739.43" stroke="#555" stroke-width="0.9"/>
<line x1="29.20" y1="735.00" x2="34.20" y2="735.00" stroke="#555" stroke-width="0.9"/>
<text x="28.90" y="781.82" font-size="7.2" fill="#3a3a3a" stroke="#3a3a3a" stroke-width="0.09" text-anchor="end">0</text>
<text x="28.90" y="759.67" font-size="7.2" fill="#3a3a3a" stroke="#3a3a3a" stroke-width="0.09" text-anchor="end">50</text>
<text x="28.90" y="737.52" font-size="7.2" fill="#3a3a3a" stroke="#3a3a3a" stroke-width="0.09" text-anchor="end">100</text>
<polygon points="127.1,779.3 127.1,776.4 127.8,774.2 129.4,768.0 129.8,766.8 130.3,766.1 130.6,766.0 131.0,766.5 132.6,740.3 133.0,736.5 133.3,735.0 133.5,735.2 133.6,735.9 134.0,739.7 135.3,764.2 135.9,772.8 136.3,775.7 136.7,777.6 137.2,778.7 138.0,779.3" fill="#c3c3c3" stroke="none"/>
<polyline points="34.2,779.3 52.7,779.3 53.6,778.9 54.8,777.3 55.2,777.1 56.6,778.9 57.3,779.2 63.8,779.3 64.5,779.1 64.9,778.7 65.9,777.0 66.3,776.6 66.7,777.0 68.0,778.9 69.0,779.3 91.8,779.3 92.9,778.8 93.9,777.3 94.3,777.1 94.7,777.3 95.8,778.8 96.8,779.3 107.3,779.3 108.1,778.9 109.6,777.1 110.0,777.3 111.2,778.9 111.8,779.2 112.6,778.8 113.9,776.1 114.3,775.8 114.7,776.3 115.7,778.6 116.3,779.2 117.0,778.8 118.0,777.3 118.4,777.1 118.8,777.4 119.8,778.9 120.5,779.2 123.8,779.3 125.2,779.0 126.2,778.1 127.0,776.5 129.9,766.6 130.5,766.0 131.0,766.4 132.6,740.2 133.0,736.1 133.2,735.2 133.4,735.1 134.0,740.8 135.3,764.2 135.9,772.5 136.7,777.6 137.3,778.9 138.0,779.2 143.5,779.2 144.1,778.7 145.4,776.0 145.8,775.8 147.2,778.7 147.8,779.2 148.3,779.1 148.7,778.7 149.7,776.6 150.1,776.2 150.5,776.5 151.8,778.8 152.2,779.1 152.8,779.3 201.2,779.3 202.2,778.9 203.4,776.6 203.8,776.2 204.3,776.6 205.5,778.9 205.9,779.2 206.7,779.3 213.3,779.2 213.9,778.8 215.0,777.3 215.4,777.1 215.8,777.3 216.8,778.8 217.8,779.3 232.9,779.2 233.7,778.8 234.7,777.3 235.1,777.1 235.5,777.3 236.6,778.8 237.2,779.2 242.3,779.3 243.4,778.9 244.6,777.0 245.0,776.6 245.4,777.0 246.7,778.9 247.7,779.3 252.8,779.2 253.5,778.8 254.5,777.3 254.9,777.1 255.3,777.3 256.3,778.8 257.4,779.3 281.2,779.3" fill="none" stroke="#a0a0a0" stroke-width="1.0" stroke-linejoin="round"/>
<line x1="127.09" y1="779.30" x2="127.09" y2="776.43" stroke="#3434e0" stroke-width="0.9"/>
<line x1="127.09" y1="779.00" x2="137.96" y2="779.00" stroke="#3434e0" stroke-width="1.1"/>
<path d="M125.09,779.40 Q125.09,777.10 127.09,777.10 Q129.09,777.10 129.09,779.40 Z" fill="#3434e0" fill-opacity="0.55" stroke="#3434e0" stroke-width="0.8"/>
<path d="M135.96,779.40 Q135.96,777.10 137.96,777.10 Q139.96,777.10 139.96,779.40 Z" fill="#3434e0" fill-opacity="0.55" stroke="#3434e0" stroke-width="0.8"/>
<text x="133.18" y="733.55" font-size="7.3" fill="#333" stroke="#333" stroke-width="0.09" text-anchor="middle">RT: 6.01</text>
<text x="281.80" y="731.62" font-size="6.35" fill="#8a8a8a" stroke="#8a8a8a" stroke-width="0.09" textLength="32.8" lengthAdjust="spacingAndGlyphs" clip-path="url(#cbl)">NL: 1.00E5</text>
<text x="281.80" y="739.32" font-size="6.35" fill="#8a8a8a" stroke="#8a8a8a" stroke-width="0.09" textLength="80.3" lengthAdjust="spacingAndGlyphs" clip-path="url(#cbl)">m/z= 301.06919-301.07221</text>
<text x="281.80" y="746.52" font-size="6.35" fill="#8a8a8a" stroke="#8a8a8a" stroke-width="0.09" textLength="71.9" lengthAdjust="spacingAndGlyphs" clip-path="url(#cbl)">F: FTMS + p ESI Full ms</text>
<text x="281.80" y="753.22" font-size="6.35" fill="#8a8a8a" stroke="#8a8a8a" stroke-width="0.09" textLength="73.9" lengthAdjust="spacingAndGlyphs" clip-path="url(#cbl)">[100.0000-900.0000]  MS</text>
<text x="281.80" y="759.62" font-size="6.35" fill="#8a8a8a" stroke="#8a8a8a" stroke-width="0.09" textLength="22.2" lengthAdjust="spacingAndGlyphs" clip-path="url(#cbl)">Kenevir</text>
<text x="381.90" y="6.49" font-size="5.4" fill="#3a3aa8" stroke="#3a3aa8" stroke-width="0.18" textLength="82.1" lengthAdjust="spacingAndGlyphs">G:\Q_Exactive_Yedek_20200623\...\Kenevir</text>
<text x="511.00" y="6.49" font-size="5.4" fill="#3a3aa8" stroke="#3a3aa8" stroke-width="0.18" textLength="35.0" lengthAdjust="spacingAndGlyphs">02/20/21 02:43:35</text>
<line x1="434.00" y1="15.80" x2="682.00" y2="15.80" stroke="#555" stroke-width="1"/>
<text x="381.90" y="21.46" font-size="5.6" fill="#3a3aa8" textLength="51.7" lengthAdjust="spacingAndGlyphs"><tspan fill="#333">RT:</tspan> 0.00 - 15.02  <tspan fill="#333">SM:</tspan> 15G</text>
<text x="385.00" y="99.70" font-size="6.0" fill="#3a3030" stroke="#3a3030" stroke-width="0.09" text-anchor="middle" textLength="58.6" lengthAdjust="spacingAndGlyphs" transform="rotate(-90 385.0 97.6)">Relative Abundance</text>
<line x1="398.00" y1="303.30" x2="640.55" y2="303.30" stroke="#444" stroke-width="0.9"/>
<line x1="398.00" y1="303.30" x2="398.00" y2="305.90" stroke="#555" stroke-width="0.8"/>
<line x1="401.23" y1="303.30" x2="401.23" y2="305.90" stroke="#555" stroke-width="0.8"/>
<line x1="404.47" y1="303.30" x2="404.47" y2="305.90" stroke="#555" stroke-width="0.8"/>
<line x1="407.70" y1="303.30" x2="407.70" y2="305.90" stroke="#555" stroke-width="0.8"/>
<line x1="410.94" y1="303.30" x2="410.94" y2="305.90" stroke="#555" stroke-width="0.8"/>
<line x1="414.17" y1="303.30" x2="414.17" y2="305.90" stroke="#555" stroke-width="0.8"/>
<line x1="417.40" y1="303.30" x2="417.40" y2="305.90" stroke="#555" stroke-width="0.8"/>
<line x1="420.64" y1="303.30" x2="420.64" y2="305.90" stroke="#555" stroke-width="0.8"/>
<line x1="423.87" y1="303.30" x2="423.87" y2="305.90" stroke="#555" stroke-width="0.8"/>
<line x1="427.11" y1="303.30" x2="427.11" y2="305.90" stroke="#555" stroke-width="0.8"/>
<line x1="430.34" y1="303.30" x2="430.34" y2="305.90" stroke="#555" stroke-width="0.8"/>
<line x1="433.57" y1="303.30" x2="433.57" y2="305.90" stroke="#555" stroke-width="0.8"/>
<line x1="436.81" y1="303.30" x2="436.81" y2="305.90" stroke="#555" stroke-width="0.8"/>
<line x1="440.04" y1="303.30" x2="440.04" y2="305.90" stroke="#555" stroke-width="0.8"/>
<line x1="443.28" y1="303.30" x2="443.28" y2="305.90" stroke="#555" stroke-width="0.8"/>
<line x1="446.51" y1="303.30" x2="446.51" y2="305.90" stroke="#555" stroke-width="0.8"/>
<line x1="449.74" y1="303.30" x2="449.74" y2="305.90" stroke="#555" stroke-width="0.8"/>
<line x1="452.98" y1="303.30" x2="452.98" y2="305.90" stroke="#555" stroke-width="0.8"/>
<line x1="456.21" y1="303.30" x2="456.21" y2="305.90" stroke="#555" stroke-width="0.8"/>
<line x1="459.45" y1="303.30" x2="459.45" y2="305.90" stroke="#555" stroke-width="0.8"/>
<line x1="462.68" y1="303.30" x2="462.68" y2="305.90" stroke="#555" stroke-width="0.8"/>
<line x1="465.91" y1="303.30" x2="465.91" y2="305.90" stroke="#555" stroke-width="0.8"/>
<line x1="469.15" y1="303.30" x2="469.15" y2="305.90" stroke="#555" stroke-width="0.8"/>
<line x1="472.38" y1="303.30" x2="472.38" y2="305.90" stroke="#555" stroke-width="0.8"/>
<line x1="475.62" y1="303.30" x2="475.62" y2="305.90" stroke="#555" stroke-width="0.8"/>
<line x1="478.85" y1="303.30" x2="478.85" y2="305.90" stroke="#555" stroke-width="0.8"/>
<line x1="482.08" y1="303.30" x2="482.08" y2="305.90" stroke="#555" stroke-width="0.8"/>
<line x1="485.32" y1="303.30" x2="485.32" y2="305.90" stroke="#555" stroke-width="0.8"/>
<line x1="488.55" y1="303.30" x2="488.55" y2="305.90" stroke="#555" stroke-width="0.8"/>
<line x1="491.79" y1="303.30" x2="491.79" y2="305.90" stroke="#555" stroke-width="0.8"/>
<line x1="495.02" y1="303.30" x2="495.02" y2="305.90" stroke="#555" stroke-width="0.8"/>
<line x1="498.25" y1="303.30" x2="498.25" y2="305.90" stroke="#555" stroke-width="0.8"/>
<line x1="501.49" y1="303.30" x2="501.49" y2="305.90" stroke="#555" stroke-width="0.8"/>
<line x1="504.72" y1="303.30" x2="504.72" y2="305.90" stroke="#555" stroke-width="0.8"/>
<line x1="507.96" y1="303.30" x2="507.96" y2="305.90" stroke="#555" stroke-width="0.8"/>
<line x1="511.19" y1="303.30" x2="511.19" y2="305.90" stroke="#555" stroke-width="0.8"/>
<line x1="514.42" y1="303.30" x2="514.42" y2="305.90" stroke="#555" stroke-width="0.8"/>
<line x1="517.66" y1="303.30" x2="517.66" y2="305.90" stroke="#555" stroke-width="0.8"/>
<line x1="520.89" y1="303.30" x2="520.89" y2="305.90" stroke="#555" stroke-width="0.8"/>
<line x1="524.13" y1="303.30" x2="524.13" y2="305.90" stroke="#555" stroke-width="0.8"/>
<line x1="527.36" y1="303.30" x2="527.36" y2="305.90" stroke="#555" stroke-width="0.8"/>
<line x1="530.59" y1="303.30" x2="530.59" y2="305.90" stroke="#555" stroke-width="0.8"/>
<line x1="533.83" y1="303.30" x2="533.83" y2="305.90" stroke="#555" stroke-width="0.8"/>
<line x1="537.06" y1="303.30" x2="537.06" y2="305.90" stroke="#555" stroke-width="0.8"/>
<line x1="540.30" y1="303.30" x2="540.30" y2="305.90" stroke="#555" stroke-width="0.8"/>
<line x1="543.53" y1="303.30" x2="543.53" y2="305.90" stroke="#555" stroke-width="0.8"/>
<line x1="546.76" y1="303.30" x2="546.76" y2="305.90" stroke="#555" stroke-width="0.8"/>
<line x1="550.00" y1="303.30" x2="550.00" y2="305.90" stroke="#555" stroke-width="0.8"/>
<line x1="553.23" y1="303.30" x2="553.23" y2="305.90" stroke="#555" stroke-width="0.8"/>
<line x1="556.47" y1="303.30" x2="556.47" y2="305.90" stroke="#555" stroke-width="0.8"/>
<line x1="559.70" y1="303.30" x2="559.70" y2="305.90" stroke="#555" stroke-width="0.8"/>
<line x1="562.93" y1="303.30" x2="562.93" y2="305.90" stroke="#555" stroke-width="0.8"/>
<line x1="566.17" y1="303.30" x2="566.17" y2="305.90" stroke="#555" stroke-width="0.8"/>
<line x1="569.40" y1="303.30" x2="569.40" y2="305.90" stroke="#555" stroke-width="0.8"/>
<line x1="572.64" y1="303.30" x2="572.64" y2="305.90" stroke="#555" stroke-width="0.8"/>
<line x1="575.87" y1="303.30" x2="575.87" y2="305.90" stroke="#555" stroke-width="0.8"/>
<line x1="579.10" y1="303.30" x2="579.10" y2="305.90" stroke="#555" stroke-width="0.8"/>
<line x1="582.34" y1="303.30" x2="582.34" y2="305.90" stroke="#555" stroke-width="0.8"/>
<line x1="585.57" y1="303.30" x2="585.57" y2="305.90" stroke="#555" stroke-width="0.8"/>
<line x1="588.81" y1="303.30" x2="588.81" y2="305.90" stroke="#555" stroke-width="0.8"/>
<line x1="592.04" y1="303.30" x2="592.04" y2="305.90" stroke="#555" stroke-width="0.8"/>
<line x1="595.27" y1="303.30" x2="595.27" y2="305.90" stroke="#555" stroke-width="0.8"/>
<line x1="598.51" y1="303.30" x2="598.51" y2="305.90" stroke="#555" stroke-width="0.8"/>
<line x1="601.74" y1="303.30" x2="601.74" y2="305.90" stroke="#555" stroke-width="0.8"/>
<line x1="604.98" y1="303.30" x2="604.98" y2="305.90" stroke="#555" stroke-width="0.8"/>
<line x1="608.21" y1="303.30" x2="608.21" y2="305.90" stroke="#555" stroke-width="0.8"/>
<line x1="611.44" y1="303.30" x2="611.44" y2="305.90" stroke="#555" stroke-width="0.8"/>
<line x1="614.68" y1="303.30" x2="614.68" y2="305.90" stroke="#555" stroke-width="0.8"/>
<line x1="617.91" y1="303.30" x2="617.91" y2="305.90" stroke="#555" stroke-width="0.8"/>
<line x1="621.15" y1="303.30" x2="621.15" y2="305.90" stroke="#555" stroke-width="0.8"/>
<line x1="624.38" y1="303.30" x2="624.38" y2="305.90" stroke="#555" stroke-width="0.8"/>
<line x1="627.61" y1="303.30" x2="627.61" y2="305.90" stroke="#555" stroke-width="0.8"/>
<line x1="630.85" y1="303.30" x2="630.85" y2="305.90" stroke="#555" stroke-width="0.8"/>
<line x1="634.08" y1="303.30" x2="634.08" y2="305.90" stroke="#555" stroke-width="0.8"/>
<line x1="637.32" y1="303.30" x2="637.32" y2="305.90" stroke="#555" stroke-width="0.8"/>
<line x1="640.55" y1="303.30" x2="640.55" y2="305.90" stroke="#555" stroke-width="0.8"/>
<text x="398.00" y="313.60" font-size="6.0" fill="#3a3a3a" stroke="#3a3a3a" stroke-width="0.09" text-anchor="middle" textLength="2.6" lengthAdjust="spacingAndGlyphs">0</text>
<text x="414.17" y="313.60" font-size="6.0" fill="#3a3a3a" stroke="#3a3a3a" stroke-width="0.09" text-anchor="middle" textLength="2.6" lengthAdjust="spacingAndGlyphs">1</text>
<text x="430.34" y="313.60" font-size="6.0" fill="#3a3a3a" stroke="#3a3a3a" stroke-width="0.09" text-anchor="middle" textLength="2.6" lengthAdjust="spacingAndGlyphs">2</text>
<text x="446.51" y="313.60" font-size="6.0" fill="#3a3a3a" stroke="#3a3a3a" stroke-width="0.09" text-anchor="middle" textLength="2.6" lengthAdjust="spacingAndGlyphs">3</text>
<text x="462.68" y="313.60" font-size="6.0" fill="#3a3a3a" stroke="#3a3a3a" stroke-width="0.09" text-anchor="middle" textLength="2.6" lengthAdjust="spacingAndGlyphs">4</text>
<text x="478.85" y="313.60" font-size="6.0" fill="#3a3a3a" stroke="#3a3a3a" stroke-width="0.09" text-anchor="middle" textLength="2.6" lengthAdjust="spacingAndGlyphs">5</text>
<text x="495.02" y="313.60" font-size="6.0" fill="#3a3a3a" stroke="#3a3a3a" stroke-width="0.09" text-anchor="middle" textLength="2.6" lengthAdjust="spacingAndGlyphs">6</text>
<text x="511.19" y="313.60" font-size="6.0" fill="#3a3a3a" stroke="#3a3a3a" stroke-width="0.09" text-anchor="middle" textLength="2.6" lengthAdjust="spacingAndGlyphs">7</text>
<text x="527.36" y="313.60" font-size="6.0" fill="#3a3a3a" stroke="#3a3a3a" stroke-width="0.09" text-anchor="middle" textLength="2.6" lengthAdjust="spacingAndGlyphs">8</text>
<text x="543.53" y="313.60" font-size="6.0" fill="#3a3a3a" stroke="#3a3a3a" stroke-width="0.09" text-anchor="middle" textLength="2.6" lengthAdjust="spacingAndGlyphs">9</text>
<text x="559.70" y="313.60" font-size="6.0" fill="#3a3a3a" stroke="#3a3a3a" stroke-width="0.09" text-anchor="middle" textLength="5.1" lengthAdjust="spacingAndGlyphs">10</text>
<text x="575.87" y="313.60" font-size="6.0" fill="#3a3a3a" stroke="#3a3a3a" stroke-width="0.09" text-anchor="middle" textLength="4.8" lengthAdjust="spacingAndGlyphs">11</text>
<text x="592.04" y="313.60" font-size="6.0" fill="#3a3a3a" stroke="#3a3a3a" stroke-width="0.09" text-anchor="middle" textLength="5.1" lengthAdjust="spacingAndGlyphs">12</text>
<text x="608.21" y="313.60" font-size="6.0" fill="#3a3a3a" stroke="#3a3a3a" stroke-width="0.09" text-anchor="middle" textLength="5.1" lengthAdjust="spacingAndGlyphs">13</text>
<text x="624.38" y="313.60" font-size="6.0" fill="#3a3a3a" stroke="#3a3a3a" stroke-width="0.09" text-anchor="middle" textLength="5.1" lengthAdjust="spacingAndGlyphs">14</text>
<text x="640.55" y="313.60" font-size="6.0" fill="#3a3a3a" stroke="#3a3a3a" stroke-width="0.09" text-anchor="middle" textLength="5.1" lengthAdjust="spacingAndGlyphs">15</text>
<text x="519.70" y="321.76" font-size="5.6" fill="#333" stroke="#333" stroke-width="0.18" text-anchor="middle" textLength="21.0" lengthAdjust="spacingAndGlyphs">Time (min)</text>
<line x1="398.00" y1="31.30" x2="398.00" y2="163.80" stroke="#444" stroke-width="0.9"/>
<line x1="398.00" y1="163.30" x2="640.55" y2="163.30" stroke="#444" stroke-width="0.9"/>
<line x1="395.00" y1="163.30" x2="398.00" y2="163.30" stroke="#555" stroke-width="0.8"/>
<line x1="396.20" y1="160.67" x2="398.00" y2="160.67" stroke="#555" stroke-width="0.8"/>
<line x1="396.20" y1="158.04" x2="398.00" y2="158.04" stroke="#555" stroke-width="0.8"/>
<line x1="396.20" y1="155.41" x2="398.00" y2="155.41" stroke="#555" stroke-width="0.8"/>
<line x1="396.20" y1="152.78" x2="398.00" y2="152.78" stroke="#555" stroke-width="0.8"/>
<line x1="395.00" y1="150.15" x2="398.00" y2="150.15" stroke="#555" stroke-width="0.8"/>
<line x1="396.20" y1="147.52" x2="398.00" y2="147.52" stroke="#555" stroke-width="0.8"/>
<line x1="396.20" y1="144.89" x2="398.00" y2="144.89" stroke="#555" stroke-width="0.8"/>
<line x1="396.20" y1="142.26" x2="398.00" y2="142.26" stroke="#555" stroke-width="0.8"/>
<line x1="396.20" y1="139.63" x2="398.00" y2="139.63" stroke="#555" stroke-width="0.8"/>
<line x1="395.00" y1="137.00" x2="398.00" y2="137.00" stroke="#555" stroke-width="0.8"/>
<line x1="396.20" y1="134.37" x2="398.00" y2="134.37" stroke="#555" stroke-width="0.8"/>
<line x1="396.20" y1="131.74" x2="398.00" y2="131.74" stroke="#555" stroke-width="0.8"/>
<line x1="396.20" y1="129.11" x2="398.00" y2="129.11" stroke="#555" stroke-width="0.8"/>
<line x1="396.20" y1="126.48" x2="398.00" y2="126.48" stroke="#555" stroke-width="0.8"/>
<line x1="395.00" y1="123.85" x2="398.00" y2="123.85" stroke="#555" stroke-width="0.8"/>
<line x1="396.20" y1="121.22" x2="398.00" y2="121.22" stroke="#555" stroke-width="0.8"/>
<line x1="396.20" y1="118.59" x2="398.00" y2="118.59" stroke="#555" stroke-width="0.8"/>
<line x1="396.20" y1="115.96" x2="398.00" y2="115.96" stroke="#555" stroke-width="0.8"/>
<line x1="396.20" y1="113.33" x2="398.00" y2="113.33" stroke="#555" stroke-width="0.8"/>
<line x1="395.00" y1="110.70" x2="398.00" y2="110.70" stroke="#555" stroke-width="0.8"/>
<line x1="396.20" y1="108.07" x2="398.00" y2="108.07" stroke="#555" stroke-width="0.8"/>
<line x1="396.20" y1="105.44" x2="398.00" y2="105.44" stroke="#555" stroke-width="0.8"/>
<line x1="396.20" y1="102.81" x2="398.00" y2="102.81" stroke="#555" stroke-width="0.8"/>
<line x1="396.20" y1="100.18" x2="398.00" y2="100.18" stroke="#555" stroke-width="0.8"/>
<line x1="395.00" y1="97.55" x2="398.00" y2="97.55" stroke="#555" stroke-width="0.8"/>
<line x1="396.20" y1="94.92" x2="398.00" y2="94.92" stroke="#555" stroke-width="0.8"/>
<line x1="396.20" y1="92.29" x2="398.00" y2="92.29" stroke="#555" stroke-width="0.8"/>
<line x1="396.20" y1="89.66" x2="398.00" y2="89.66" stroke="#555" stroke-width="0.8"/>
<line x1="396.20" y1="87.03" x2="398.00" y2="87.03" stroke="#555" stroke-width="0.8"/>
<line x1="395.00" y1="84.40" x2="398.00" y2="84.40" stroke="#555" stroke-width="0.8"/>
<line x1="396.20" y1="81.77" x2="398.00" y2="81.77" stroke="#555" stroke-width="0.8"/>
<line x1="396.20" y1="79.14" x2="398.00" y2="79.14" stroke="#555" stroke-width="0.8"/>
<line x1="396.20" y1="76.51" x2="398.00" y2="76.51" stroke="#555" stroke-width="0.8"/>
<line x1="396.20" y1="73.88" x2="398.00" y2="73.88" stroke="#555" stroke-width="0.8"/>
<line x1="395.00" y1="71.25" x2="398.00" y2="71.25" stroke="#555" stroke-width="0.8"/>
<line x1="396.20" y1="68.62" x2="398.00" y2="68.62" stroke="#555" stroke-width="0.8"/>
<line x1="396.20" y1="65.99" x2="398.00" y2="65.99" stroke="#555" stroke-width="0.8"/>
<line x1="396.20" y1="63.36" x2="398.00" y2="63.36" stroke="#555" stroke-width="0.8"/>
<line x1="396.20" y1="60.73" x2="398.00" y2="60.73" stroke="#555" stroke-width="0.8"/>
<line x1="395.00" y1="58.10" x2="398.00" y2="58.10" stroke="#555" stroke-width="0.8"/>
<line x1="396.20" y1="55.47" x2="398.00" y2="55.47" stroke="#555" stroke-width="0.8"/>
<line x1="396.20" y1="52.84" x2="398.00" y2="52.84" stroke="#555" stroke-width="0.8"/>
<line x1="396.20" y1="50.21" x2="398.00" y2="50.21" stroke="#555" stroke-width="0.8"/>
<line x1="396.20" y1="47.58" x2="398.00" y2="47.58" stroke="#555" stroke-width="0.8"/>
<line x1="395.00" y1="44.95" x2="398.00" y2="44.95" stroke="#555" stroke-width="0.8"/>
<line x1="396.20" y1="42.32" x2="398.00" y2="42.32" stroke="#555" stroke-width="0.8"/>
<line x1="396.20" y1="39.69" x2="398.00" y2="39.69" stroke="#555" stroke-width="0.8"/>
<line x1="396.20" y1="37.06" x2="398.00" y2="37.06" stroke="#555" stroke-width="0.8"/>
<line x1="396.20" y1="34.43" x2="398.00" y2="34.43" stroke="#555" stroke-width="0.8"/>
<line x1="395.00" y1="31.80" x2="398.00" y2="31.80" stroke="#555" stroke-width="0.8"/>
<text x="394.80" y="165.40" font-size="6.0" fill="#3a3a3a" stroke="#3a3a3a" stroke-width="0.09" text-anchor="end" textLength="2.6" lengthAdjust="spacingAndGlyphs">0</text>
<text x="394.80" y="152.25" font-size="6.0" fill="#3a3a3a" stroke="#3a3a3a" stroke-width="0.09" text-anchor="end" textLength="5.1" lengthAdjust="spacingAndGlyphs">10</text>
<text x="394.80" y="139.10" font-size="6.0" fill="#3a3a3a" stroke="#3a3a3a" stroke-width="0.09" text-anchor="end" textLength="5.1" lengthAdjust="spacingAndGlyphs">20</text>
<text x="394.80" y="125.95" font-size="6.0" fill="#3a3a3a" stroke="#3a3a3a" stroke-width="0.09" text-anchor="end" textLength="5.1" lengthAdjust="spacingAndGlyphs">30</text>
<text x="394.80" y="112.80" font-size="6.0" fill="#3a3a3a" stroke="#3a3a3a" stroke-width="0.09" text-anchor="end" textLength="5.1" lengthAdjust="spacingAndGlyphs">40</text>
<text x="394.80" y="99.65" font-size="6.0" fill="#3a3a3a" stroke="#3a3a3a" stroke-width="0.09" text-anchor="end" textLength="5.1" lengthAdjust="spacingAndGlyphs">50</text>
<text x="394.80" y="86.50" font-size="6.0" fill="#3a3a3a" stroke="#3a3a3a" stroke-width="0.09" text-anchor="end" textLength="5.1" lengthAdjust="spacingAndGlyphs">60</text>
<text x="394.80" y="73.35" font-size="6.0" fill="#3a3a3a" stroke="#3a3a3a" stroke-width="0.09" text-anchor="end" textLength="5.1" lengthAdjust="spacingAndGlyphs">70</text>
<text x="394.80" y="60.20" font-size="6.0" fill="#3a3a3a" stroke="#3a3a3a" stroke-width="0.09" text-anchor="end" textLength="5.1" lengthAdjust="spacingAndGlyphs">80</text>
<text x="394.80" y="47.05" font-size="6.0" fill="#3a3a3a" stroke="#3a3a3a" stroke-width="0.09" text-anchor="end" textLength="5.1" lengthAdjust="spacingAndGlyphs">90</text>
<text x="394.80" y="33.90" font-size="6.0" fill="#3a3a3a" stroke="#3a3a3a" stroke-width="0.09" text-anchor="end" textLength="7.7" lengthAdjust="spacingAndGlyphs">100</text>
<polygon points="499.1,163.3 499.1,162.7 499.4,161.9 499.7,160.7 500.2,157.4 500.6,151.0 501.0,142.0 501.6,118.1 502.9,46.0 503.3,34.7 503.5,32.2 503.6,31.8 503.8,33.0 504.0,35.9 504.3,46.8 505.8,114.8 506.4,139.7 507.2,154.6 507.7,159.4 508.3,162.1 508.3,163.3" fill="#c3c3c3" stroke="none"/>
<polyline points="398.0,163.3 440.6,163.2 441.3,162.7 441.7,161.3 442.9,150.5 443.3,148.8 443.7,150.5 444.9,161.3 445.3,162.7 445.9,163.2 492.4,163.3 492.8,163.1 493.2,162.7 493.8,160.5 495.0,148.6 495.4,146.3 495.6,146.4 495.8,147.3 496.8,157.8 497.4,161.7 497.8,162.8 498.3,163.2 498.7,163.1 499.1,162.7 499.7,161.1 500.1,158.3 500.9,144.4 501.5,122.5 502.9,47.3 503.5,32.0 503.7,32.2 503.9,34.7 504.3,45.8 505.7,113.6 506.5,142.5 506.9,151.2 507.6,158.6 508.2,161.7 508.8,162.8 509.6,163.2 511.0,163.3 620.1,163.3 620.5,163.2 620.9,162.7 621.3,161.3 622.4,152.0 622.8,150.2 623.2,152.0 624.2,161.3 624.8,162.9 625.4,160.6 626.4,152.2 626.6,152.3 626.8,153.4 627.6,160.9 628.0,162.6 628.4,163.2 640.5,163.3" fill="none" stroke="#404040" stroke-width="0.8" stroke-linejoin="round"/>
<line x1="499.06" y1="163.00" x2="508.28" y2="163.00" stroke="#3434e0" stroke-width="0.8800000000000001"/>
<path d="M497.56,163.40 Q497.56,161.60 499.06,161.60 Q500.56,161.60 500.56,163.40 Z" fill="#3434e0" fill-opacity="0.55" stroke="#3434e0" stroke-width="0.6400000000000001"/>
<path d="M506.78,163.40 Q506.78,161.60 508.28,161.60 Q509.78,161.60 509.78,163.40 Z" fill="#3434e0" fill-opacity="0.55" stroke="#3434e0" stroke-width="0.6400000000000001"/>
<text x="503.59" y="29.39" font-size="5.4" fill="#333" stroke="#333" stroke-width="0.18" text-anchor="middle" textLength="16.7" lengthAdjust="spacingAndGlyphs">RT: 6.53</text>
<text x="641.00" y="28.76" font-size="5.6" fill="#2a2a2a" stroke="#2a2a2a" stroke-width="0.18" textLength="21.7" lengthAdjust="spacingAndGlyphs">NL: 3.39E3</text>
<text x="641.00" y="38.16" font-size="5.6" fill="#2a2a2a" stroke="#2a2a2a" stroke-width="0.18" textLength="9.5" lengthAdjust="spacingAndGlyphs">m/z=</text>
<text x="641.00" y="45.66" font-size="5.6" fill="#2a2a2a" stroke="#2a2a2a" stroke-width="0.18" textLength="22.0" lengthAdjust="spacingAndGlyphs">343.08058-</text>
<text x="641.00" y="52.26" font-size="5.6" fill="#2a2a2a" stroke="#2a2a2a" stroke-width="0.18" textLength="38.6" lengthAdjust="spacingAndGlyphs">343.08402 F: FTMS</text>
<text x="641.00" y="59.96" font-size="5.6" fill="#2a2a2a" stroke="#2a2a2a" stroke-width="0.18" textLength="28.5" lengthAdjust="spacingAndGlyphs">- p ESI Full ms</text>
<text x="641.00" y="67.46" font-size="5.6" fill="#2a2a2a" stroke="#2a2a2a" stroke-width="0.18" textLength="40.1" lengthAdjust="spacingAndGlyphs">[100.0000-900.0000]</text>
<text x="641.00" y="74.36" font-size="5.6" fill="#2a2a2a" stroke="#2a2a2a" stroke-width="0.18" textLength="23.6" lengthAdjust="spacingAndGlyphs"> MS Kenevir</text>
<line x1="398.00" y1="170.30" x2="398.00" y2="303.80" stroke="#444" stroke-width="0.9"/>
<line x1="395.00" y1="303.30" x2="398.00" y2="303.30" stroke="#555" stroke-width="0.8"/>
<line x1="396.20" y1="300.65" x2="398.00" y2="300.65" stroke="#555" stroke-width="0.8"/>
<line x1="396.20" y1="298.00" x2="398.00" y2="298.00" stroke="#555" stroke-width="0.8"/>
<line x1="396.20" y1="295.35" x2="398.00" y2="295.35" stroke="#555" stroke-width="0.8"/>
<line x1="396.20" y1="292.70" x2="398.00" y2="292.70" stroke="#555" stroke-width="0.8"/>
<line x1="395.00" y1="290.05" x2="398.00" y2="290.05" stroke="#555" stroke-width="0.8"/>
<line x1="396.20" y1="287.40" x2="398.00" y2="287.40" stroke="#555" stroke-width="0.8"/>
<line x1="396.20" y1="284.75" x2="398.00" y2="284.75" stroke="#555" stroke-width="0.8"/>
<line x1="396.20" y1="282.10" x2="398.00" y2="282.10" stroke="#555" stroke-width="0.8"/>
<line x1="396.20" y1="279.45" x2="398.00" y2="279.45" stroke="#555" stroke-width="0.8"/>
<line x1="395.00" y1="276.80" x2="398.00" y2="276.80" stroke="#555" stroke-width="0.8"/>
<line x1="396.20" y1="274.15" x2="398.00" y2="274.15" stroke="#555" stroke-width="0.8"/>
<line x1="396.20" y1="271.50" x2="398.00" y2="271.50" stroke="#555" stroke-width="0.8"/>
<line x1="396.20" y1="268.85" x2="398.00" y2="268.85" stroke="#555" stroke-width="0.8"/>
<line x1="396.20" y1="266.20" x2="398.00" y2="266.20" stroke="#555" stroke-width="0.8"/>
<line x1="395.00" y1="263.55" x2="398.00" y2="263.55" stroke="#555" stroke-width="0.8"/>
<line x1="396.20" y1="260.90" x2="398.00" y2="260.90" stroke="#555" stroke-width="0.8"/>
<line x1="396.20" y1="258.25" x2="398.00" y2="258.25" stroke="#555" stroke-width="0.8"/>
<line x1="396.20" y1="255.60" x2="398.00" y2="255.60" stroke="#555" stroke-width="0.8"/>
<line x1="396.20" y1="252.95" x2="398.00" y2="252.95" stroke="#555" stroke-width="0.8"/>
<line x1="395.00" y1="250.30" x2="398.00" y2="250.30" stroke="#555" stroke-width="0.8"/>
<line x1="396.20" y1="247.65" x2="398.00" y2="247.65" stroke="#555" stroke-width="0.8"/>
<line x1="396.20" y1="245.00" x2="398.00" y2="245.00" stroke="#555" stroke-width="0.8"/>
<line x1="396.20" y1="242.35" x2="398.00" y2="242.35" stroke="#555" stroke-width="0.8"/>
<line x1="396.20" y1="239.70" x2="398.00" y2="239.70" stroke="#555" stroke-width="0.8"/>
<line x1="395.00" y1="237.05" x2="398.00" y2="237.05" stroke="#555" stroke-width="0.8"/>
<line x1="396.20" y1="234.40" x2="398.00" y2="234.40" stroke="#555" stroke-width="0.8"/>
<line x1="396.20" y1="231.75" x2="398.00" y2="231.75" stroke="#555" stroke-width="0.8"/>
<line x1="396.20" y1="229.10" x2="398.00" y2="229.10" stroke="#555" stroke-width="0.8"/>
<line x1="396.20" y1="226.45" x2="398.00" y2="226.45" stroke="#555" stroke-width="0.8"/>
<line x1="395.00" y1="223.80" x2="398.00" y2="223.80" stroke="#555" stroke-width="0.8"/>
<line x1="396.20" y1="221.15" x2="398.00" y2="221.15" stroke="#555" stroke-width="0.8"/>
<line x1="396.20" y1="218.50" x2="398.00" y2="218.50" stroke="#555" stroke-width="0.8"/>
<line x1="396.20" y1="215.85" x2="398.00" y2="215.85" stroke="#555" stroke-width="0.8"/>
<line x1="396.20" y1="213.20" x2="398.00" y2="213.20" stroke="#555" stroke-width="0.8"/>
<line x1="395.00" y1="210.55" x2="398.00" y2="210.55" stroke="#555" stroke-width="0.8"/>
<line x1="396.20" y1="207.90" x2="398.00" y2="207.90" stroke="#555" stroke-width="0.8"/>
<line x1="396.20" y1="205.25" x2="398.00" y2="205.25" stroke="#555" stroke-width="0.8"/>
<line x1="396.20" y1="202.60" x2="398.00" y2="202.60" stroke="#555" stroke-width="0.8"/>
<line x1="396.20" y1="199.95" x2="398.00" y2="199.95" stroke="#555" stroke-width="0.8"/>
<line x1="395.00" y1="197.30" x2="398.00" y2="197.30" stroke="#555" stroke-width="0.8"/>
<line x1="396.20" y1="194.65" x2="398.00" y2="194.65" stroke="#555" stroke-width="0.8"/>
<line x1="396.20" y1="192.00" x2="398.00" y2="192.00" stroke="#555" stroke-width="0.8"/>
<line x1="396.20" y1="189.35" x2="398.00" y2="189.35" stroke="#555" stroke-width="0.8"/>
<line x1="396.20" y1="186.70" x2="398.00" y2="186.70" stroke="#555" stroke-width="0.8"/>
<line x1="395.00" y1="184.05" x2="398.00" y2="184.05" stroke="#555" stroke-width="0.8"/>
<line x1="396.20" y1="181.40" x2="398.00" y2="181.40" stroke="#555" stroke-width="0.8"/>
<line x1="396.20" y1="178.75" x2="398.00" y2="178.75" stroke="#555" stroke-width="0.8"/>
<line x1="396.20" y1="176.10" x2="398.00" y2="176.10" stroke="#555" stroke-width="0.8"/>
<line x1="396.20" y1="173.45" x2="398.00" y2="173.45" stroke="#555" stroke-width="0.8"/>
<line x1="395.00" y1="170.80" x2="398.00" y2="170.80" stroke="#555" stroke-width="0.8"/>
<text x="394.80" y="305.40" font-size="6.0" fill="#3a3a3a" stroke="#3a3a3a" stroke-width="0.09" text-anchor="end" textLength="2.6" lengthAdjust="spacingAndGlyphs">0</text>
<text x="394.80" y="292.15" font-size="6.0" fill="#3a3a3a" stroke="#3a3a3a" stroke-width="0.09" text-anchor="end" textLength="5.1" lengthAdjust="spacingAndGlyphs">10</text>
<text x="394.80" y="278.90" font-size="6.0" fill="#3a3a3a" stroke="#3a3a3a" stroke-width="0.09" text-anchor="end" textLength="5.1" lengthAdjust="spacingAndGlyphs">20</text>
<text x="394.80" y="265.65" font-size="6.0" fill="#3a3a3a" stroke="#3a3a3a" stroke-width="0.09" text-anchor="end" textLength="5.1" lengthAdjust="spacingAndGlyphs">30</text>
<text x="394.80" y="252.40" font-size="6.0" fill="#3a3a3a" stroke="#3a3a3a" stroke-width="0.09" text-anchor="end" textLength="5.1" lengthAdjust="spacingAndGlyphs">40</text>
<text x="394.80" y="239.15" font-size="6.0" fill="#3a3a3a" stroke="#3a3a3a" stroke-width="0.09" text-anchor="end" textLength="5.1" lengthAdjust="spacingAndGlyphs">50</text>
<text x="394.80" y="225.90" font-size="6.0" fill="#3a3a3a" stroke="#3a3a3a" stroke-width="0.09" text-anchor="end" textLength="5.1" lengthAdjust="spacingAndGlyphs">60</text>
<text x="394.80" y="212.65" font-size="6.0" fill="#3a3a3a" stroke="#3a3a3a" stroke-width="0.09" text-anchor="end" textLength="5.1" lengthAdjust="spacingAndGlyphs">70</text>
<text x="394.80" y="199.40" font-size="6.0" fill="#3a3a3a" stroke="#3a3a3a" stroke-width="0.09" text-anchor="end" textLength="5.1" lengthAdjust="spacingAndGlyphs">80</text>
<text x="394.80" y="186.15" font-size="6.0" fill="#3a3a3a" stroke="#3a3a3a" stroke-width="0.09" text-anchor="end" textLength="5.1" lengthAdjust="spacingAndGlyphs">90</text>
<text x="394.80" y="172.90" font-size="6.0" fill="#3a3a3a" stroke="#3a3a3a" stroke-width="0.09" text-anchor="end" textLength="7.7" lengthAdjust="spacingAndGlyphs">100</text>
<polygon points="493.9,303.3 493.9,302.1 495.3,301.2 496.2,300.1 497.1,298.5 497.7,296.8 498.2,294.7 498.7,291.7 499.6,283.3 500.3,271.6 501.0,258.1 503.6,184.3 504.2,173.9 504.4,171.7 504.7,170.8 504.8,170.8 504.9,171.1 505.3,173.6 506.0,185.1 508.5,251.2 509.6,275.0 510.5,286.7 511.2,290.2 511.9,291.4 512.5,292.0 512.5,303.3" fill="#c3c3c3" stroke="none"/>
<polyline points="398.0,303.3 488.1,303.3 491.0,303.0 493.0,302.5 494.6,301.7 496.0,300.4 497.2,298.2 498.3,294.6 499.1,289.0 499.9,279.4 501.1,254.9 503.5,185.3 504.1,174.6 504.5,171.2 504.7,170.8 504.9,171.2 505.3,174.0 506.1,187.2 508.6,252.4 509.8,277.4 510.6,287.2 511.2,290.1 512.2,291.8 513.0,292.3 514.8,292.7 518.5,294.6 520.9,295.5 521.9,296.3 523.9,298.4 524.7,299.0 525.5,299.0 527.6,297.8 528.2,297.8 530.2,298.5 531.8,297.8 532.4,297.7 534.0,298.6 538.7,302.2 539.9,302.6 540.5,302.4 542.5,300.8 543.3,300.9 544.7,302.0 545.6,302.2 547.0,300.9 547.4,300.8 548.2,301.1 550.4,303.0 551.2,303.3 552.0,303.1 554.0,301.6 554.8,301.3 555.5,301.4 557.7,302.6 558.3,302.5 559.9,301.7 560.5,301.6 560.9,301.8 561.9,303.1 562.3,303.3 574.3,303.3 575.1,302.8 576.7,303.3 640.5,303.3" fill="none" stroke="#a04848" stroke-width="1.0" stroke-linejoin="round"/>
<line x1="512.48" y1="303.30" x2="512.48" y2="292.04" stroke="#3434e0" stroke-width="0.9"/>
<line x1="493.89" y1="303.00" x2="512.48" y2="303.00" stroke="#3434e0" stroke-width="1.1"/>
<path d="M492.39,303.40 Q492.39,301.60 493.89,301.60 Q495.39,301.60 495.39,303.40 Z" fill="#3434e0" fill-opacity="0.55" stroke="#3434e0" stroke-width="0.8"/>
<path d="M510.98,303.40 Q510.98,301.60 512.48,301.60 Q513.98,301.60 513.98,303.40 Z" fill="#3434e0" fill-opacity="0.55" stroke="#3434e0" stroke-width="0.8"/>
<text x="504.72" y="169.59" font-size="5.4" fill="#333" stroke="#333" stroke-width="0.18" text-anchor="middle" textLength="16.7" lengthAdjust="spacingAndGlyphs">RT: 6.60</text>
<text x="641.00" y="168.96" font-size="5.6" fill="#8a2a2a" stroke="#8a2a2a" stroke-width="0.18" textLength="21.7" lengthAdjust="spacingAndGlyphs">NL: 1.59E5</text>
<text x="641.00" y="178.26" font-size="5.6" fill="#8a2a2a" stroke="#8a2a2a" stroke-width="0.18" textLength="9.5" lengthAdjust="spacingAndGlyphs">m/z=</text>
<text x="641.00" y="184.96" font-size="5.6" fill="#8a2a2a" stroke="#8a2a2a" stroke-width="0.18" textLength="22.0" lengthAdjust="spacingAndGlyphs">253.04933-</text>
<text x="641.00" y="192.56" font-size="5.6" fill="#8a2a2a" stroke="#8a2a2a" stroke-width="0.18" textLength="38.6" lengthAdjust="spacingAndGlyphs">253.05187 F: FTMS</text>
<text x="641.00" y="200.06" font-size="5.6" fill="#8a2a2a" stroke="#8a2a2a" stroke-width="0.18" textLength="28.5" lengthAdjust="spacingAndGlyphs">- p ESI Full ms</text>
<text x="641.00" y="207.46" font-size="5.6" fill="#8a2a2a" stroke="#8a2a2a" stroke-width="0.18" textLength="40.1" lengthAdjust="spacingAndGlyphs">[100.0000-900.0000]</text>
<text x="641.00" y="214.46" font-size="5.6" fill="#8a2a2a" stroke="#8a2a2a" stroke-width="0.18" textLength="23.6" lengthAdjust="spacingAndGlyphs"> MS Kenevir</text>
<line x1="382.00" y1="326.20" x2="682.00" y2="326.20" stroke="#bbb" stroke-width="1.2"/>
<text x="377.20" y="342.01" font-size="4.6" fill="#3a3aa8" stroke="#3a3aa8" stroke-width="0.18" textLength="85.6" lengthAdjust="spacingAndGlyphs">G:\Q_Exactive_Yedek_20200623\...\Kenevir</text>
<text x="513.30" y="342.01" font-size="4.6" fill="#3a3aa8" stroke="#3a3aa8" stroke-width="0.18" textLength="34.3" lengthAdjust="spacingAndGlyphs">02/20/21 02:43:35</text>
<line x1="377.20" y1="347.00" x2="684.50" y2="347.00" stroke="#555" stroke-width="1"/>
<text x="377.20" y="354.06" font-size="7.3" fill="#3a3aa8" textLength="77.1" lengthAdjust="spacingAndGlyphs"><tspan fill="#333">RT:</tspan> 0.00 - 15.02   <tspan fill="#333">SM:</tspan> 15G</text>
<text x="383.10" y="460.54" font-size="6.4" fill="#3a3030" stroke="#3a3030" stroke-width="0.09" text-anchor="middle" textLength="55.4" lengthAdjust="spacingAndGlyphs" transform="rotate(-90 383.1 458.3)">Relative Abundance</text>
<line x1="401.50" y1="752.30" x2="628.30" y2="752.30" stroke="#444" stroke-width="1.0"/>
<line x1="401.50" y1="752.30" x2="401.50" y2="755.60" stroke="#555" stroke-width="0.9"/>
<line x1="409.06" y1="752.30" x2="409.06" y2="755.60" stroke="#555" stroke-width="0.9"/>
<line x1="416.62" y1="752.30" x2="416.62" y2="755.60" stroke="#555" stroke-width="0.9"/>
<line x1="424.18" y1="752.30" x2="424.18" y2="755.60" stroke="#555" stroke-width="0.9"/>
<line x1="431.74" y1="752.30" x2="431.74" y2="755.60" stroke="#555" stroke-width="0.9"/>
<line x1="439.30" y1="752.30" x2="439.30" y2="755.60" stroke="#555" stroke-width="0.9"/>
<line x1="446.86" y1="752.30" x2="446.86" y2="755.60" stroke="#555" stroke-width="0.9"/>
<line x1="454.42" y1="752.30" x2="454.42" y2="755.60" stroke="#555" stroke-width="0.9"/>
<line x1="461.98" y1="752.30" x2="461.98" y2="755.60" stroke="#555" stroke-width="0.9"/>
<line x1="469.54" y1="752.30" x2="469.54" y2="755.60" stroke="#555" stroke-width="0.9"/>
<line x1="477.10" y1="752.30" x2="477.10" y2="755.60" stroke="#555" stroke-width="0.9"/>
<line x1="484.66" y1="752.30" x2="484.66" y2="755.60" stroke="#555" stroke-width="0.9"/>
<line x1="492.22" y1="752.30" x2="492.22" y2="755.60" stroke="#555" stroke-width="0.9"/>
<line x1="499.78" y1="752.30" x2="499.78" y2="755.60" stroke="#555" stroke-width="0.9"/>
<line x1="507.34" y1="752.30" x2="507.34" y2="755.60" stroke="#555" stroke-width="0.9"/>
<line x1="514.90" y1="752.30" x2="514.90" y2="755.60" stroke="#555" stroke-width="0.9"/>
<line x1="522.46" y1="752.30" x2="522.46" y2="755.60" stroke="#555" stroke-width="0.9"/>
<line x1="530.02" y1="752.30" x2="530.02" y2="755.60" stroke="#555" stroke-width="0.9"/>
<line x1="537.58" y1="752.30" x2="537.58" y2="755.60" stroke="#555" stroke-width="0.9"/>
<line x1="545.14" y1="752.30" x2="545.14" y2="755.60" stroke="#555" stroke-width="0.9"/>
<line x1="552.70" y1="752.30" x2="552.70" y2="755.60" stroke="#555" stroke-width="0.9"/>
<line x1="560.26" y1="752.30" x2="560.26" y2="755.60" stroke="#555" stroke-width="0.9"/>
<line x1="567.82" y1="752.30" x2="567.82" y2="755.60" stroke="#555" stroke-width="0.9"/>
<line x1="575.38" y1="752.30" x2="575.38" y2="755.60" stroke="#555" stroke-width="0.9"/>
<line x1="582.94" y1="752.30" x2="582.94" y2="755.60" stroke="#555" stroke-width="0.9"/>
<line x1="590.50" y1="752.30" x2="590.50" y2="755.60" stroke="#555" stroke-width="0.9"/>
<line x1="598.06" y1="752.30" x2="598.06" y2="755.60" stroke="#555" stroke-width="0.9"/>
<line x1="605.62" y1="752.30" x2="605.62" y2="755.60" stroke="#555" stroke-width="0.9"/>
<line x1="613.18" y1="752.30" x2="613.18" y2="755.60" stroke="#555" stroke-width="0.9"/>
<line x1="620.74" y1="752.30" x2="620.74" y2="755.60" stroke="#555" stroke-width="0.9"/>
<line x1="628.30" y1="752.30" x2="628.30" y2="755.60" stroke="#555" stroke-width="0.9"/>
<text x="401.50" y="763.05" font-size="7.0" fill="#3a3a3a" stroke="#3a3a3a" stroke-width="0.09" text-anchor="middle" textLength="3.8" lengthAdjust="spacingAndGlyphs">0</text>
<text x="431.74" y="763.05" font-size="7.0" fill="#3a3a3a" stroke="#3a3a3a" stroke-width="0.09" text-anchor="middle" textLength="3.8" lengthAdjust="spacingAndGlyphs">2</text>
<text x="461.98" y="763.05" font-size="7.0" fill="#3a3a3a" stroke="#3a3a3a" stroke-width="0.09" text-anchor="middle" textLength="3.8" lengthAdjust="spacingAndGlyphs">4</text>
<text x="492.22" y="763.05" font-size="7.0" fill="#3a3a3a" stroke="#3a3a3a" stroke-width="0.09" text-anchor="middle" textLength="3.8" lengthAdjust="spacingAndGlyphs">6</text>
<text x="522.46" y="763.05" font-size="7.0" fill="#3a3a3a" stroke="#3a3a3a" stroke-width="0.09" text-anchor="middle" textLength="3.8" lengthAdjust="spacingAndGlyphs">8</text>
<text x="552.70" y="763.05" font-size="7.0" fill="#3a3a3a" stroke="#3a3a3a" stroke-width="0.09" text-anchor="middle" textLength="7.6" lengthAdjust="spacingAndGlyphs">10</text>
<text x="582.94" y="763.05" font-size="7.0" fill="#3a3a3a" stroke="#3a3a3a" stroke-width="0.09" text-anchor="middle" textLength="7.6" lengthAdjust="spacingAndGlyphs">12</text>
<text x="613.18" y="763.05" font-size="7.0" fill="#3a3a3a" stroke="#3a3a3a" stroke-width="0.09" text-anchor="middle" textLength="7.6" lengthAdjust="spacingAndGlyphs">14</text>
<text x="515.60" y="771.02" font-size="7.2" fill="#333" stroke="#333" stroke-width="0.09" text-anchor="middle" textLength="29.8" lengthAdjust="spacingAndGlyphs">Time (min)</text>
<line x1="401.50" y1="362.90" x2="401.50" y2="554.00" stroke="#444" stroke-width="1.0"/>
<line x1="401.50" y1="553.50" x2="628.30" y2="553.50" stroke="#444" stroke-width="1.0"/>
<line x1="397.00" y1="553.50" x2="401.50" y2="553.50" stroke="#555" stroke-width="0.9"/>
<line x1="399.00" y1="549.70" x2="401.50" y2="549.70" stroke="#555" stroke-width="0.9"/>
<line x1="399.00" y1="545.90" x2="401.50" y2="545.90" stroke="#555" stroke-width="0.9"/>
<line x1="399.00" y1="542.09" x2="401.50" y2="542.09" stroke="#555" stroke-width="0.9"/>
<line x1="399.00" y1="538.29" x2="401.50" y2="538.29" stroke="#555" stroke-width="0.9"/>
<line x1="397.00" y1="534.49" x2="401.50" y2="534.49" stroke="#555" stroke-width="0.9"/>
<line x1="399.00" y1="530.69" x2="401.50" y2="530.69" stroke="#555" stroke-width="0.9"/>
<line x1="399.00" y1="526.89" x2="401.50" y2="526.89" stroke="#555" stroke-width="0.9"/>
<line x1="399.00" y1="523.08" x2="401.50" y2="523.08" stroke="#555" stroke-width="0.9"/>
<line x1="399.00" y1="519.28" x2="401.50" y2="519.28" stroke="#555" stroke-width="0.9"/>
<line x1="397.00" y1="515.48" x2="401.50" y2="515.48" stroke="#555" stroke-width="0.9"/>
<line x1="399.00" y1="511.68" x2="401.50" y2="511.68" stroke="#555" stroke-width="0.9"/>
<line x1="399.00" y1="507.88" x2="401.50" y2="507.88" stroke="#555" stroke-width="0.9"/>
<line x1="399.00" y1="504.07" x2="401.50" y2="504.07" stroke="#555" stroke-width="0.9"/>
<line x1="399.00" y1="500.27" x2="401.50" y2="500.27" stroke="#555" stroke-width="0.9"/>
<line x1="397.00" y1="496.47" x2="401.50" y2="496.47" stroke="#555" stroke-width="0.9"/>
<line x1="399.00" y1="492.67" x2="401.50" y2="492.67" stroke="#555" stroke-width="0.9"/>
<line x1="399.00" y1="488.87" x2="401.50" y2="488.87" stroke="#555" stroke-width="0.9"/>
<line x1="399.00" y1="485.06" x2="401.50" y2="485.06" stroke="#555" stroke-width="0.9"/>
<line x1="399.00" y1="481.26" x2="401.50" y2="481.26" stroke="#555" stroke-width="0.9"/>
<line x1="397.00" y1="477.46" x2="401.50" y2="477.46" stroke="#555" stroke-width="0.9"/>
<line x1="399.00" y1="473.66" x2="401.50" y2="473.66" stroke="#555" stroke-width="0.9"/>
<line x1="399.00" y1="469.86" x2="401.50" y2="469.86" stroke="#555" stroke-width="0.9"/>
<line x1="399.00" y1="466.05" x2="401.50" y2="466.05" stroke="#555" stroke-width="0.9"/>
<line x1="399.00" y1="462.25" x2="401.50" y2="462.25" stroke="#555" stroke-width="0.9"/>
<line x1="397.00" y1="458.45" x2="401.50" y2="458.45" stroke="#555" stroke-width="0.9"/>
<line x1="399.00" y1="454.65" x2="401.50" y2="454.65" stroke="#555" stroke-width="0.9"/>
<line x1="399.00" y1="450.85" x2="401.50" y2="450.85" stroke="#555" stroke-width="0.9"/>
<line x1="399.00" y1="447.04" x2="401.50" y2="447.04" stroke="#555" stroke-width="0.9"/>
<line x1="399.00" y1="443.24" x2="401.50" y2="443.24" stroke="#555" stroke-width="0.9"/>
<line x1="397.00" y1="439.44" x2="401.50" y2="439.44" stroke="#555" stroke-width="0.9"/>
<line x1="399.00" y1="435.64" x2="401.50" y2="435.64" stroke="#555" stroke-width="0.9"/>
<line x1="399.00" y1="431.84" x2="401.50" y2="431.84" stroke="#555" stroke-width="0.9"/>
<line x1="399.00" y1="428.03" x2="401.50" y2="428.03" stroke="#555" stroke-width="0.9"/>
<line x1="399.00" y1="424.23" x2="401.50" y2="424.23" stroke="#555" stroke-width="0.9"/>
<line x1="397.00" y1="420.43" x2="401.50" y2="420.43" stroke="#555" stroke-width="0.9"/>
<line x1="399.00" y1="416.63" x2="401.50" y2="416.63" stroke="#555" stroke-width="0.9"/>
<line x1="399.00" y1="412.83" x2="401.50" y2="412.83" stroke="#555" stroke-width="0.9"/>
<line x1="399.00" y1="409.02" x2="401.50" y2="409.02" stroke="#555" stroke-width="0.9"/>
<line x1="399.00" y1="405.22" x2="401.50" y2="405.22" stroke="#555" stroke-width="0.9"/>
<line x1="397.00" y1="401.42" x2="401.50" y2="401.42" stroke="#555" stroke-width="0.9"/>
<line x1="399.00" y1="397.62" x2="401.50" y2="397.62" stroke="#555" stroke-width="0.9"/>
<line x1="399.00" y1="393.82" x2="401.50" y2="393.82" stroke="#555" stroke-width="0.9"/>
<line x1="399.00" y1="390.01" x2="401.50" y2="390.01" stroke="#555" stroke-width="0.9"/>
<line x1="399.00" y1="386.21" x2="401.50" y2="386.21" stroke="#555" stroke-width="0.9"/>
<line x1="397.00" y1="382.41" x2="401.50" y2="382.41" stroke="#555" stroke-width="0.9"/>
<line x1="399.00" y1="378.61" x2="401.50" y2="378.61" stroke="#555" stroke-width="0.9"/>
<line x1="399.00" y1="374.81" x2="401.50" y2="374.81" stroke="#555" stroke-width="0.9"/>
<line x1="399.00" y1="371.00" x2="401.50" y2="371.00" stroke="#555" stroke-width="0.9"/>
<line x1="399.00" y1="367.20" x2="401.50" y2="367.20" stroke="#555" stroke-width="0.9"/>
<line x1="397.00" y1="363.40" x2="401.50" y2="363.40" stroke="#555" stroke-width="0.9"/>
<text x="396.80" y="555.95" font-size="7.0" fill="#3a3a3a" stroke="#3a3a3a" stroke-width="0.09" text-anchor="end" textLength="3.8" lengthAdjust="spacingAndGlyphs">0</text>
<text x="396.80" y="536.94" font-size="7.0" fill="#3a3a3a" stroke="#3a3a3a" stroke-width="0.09" text-anchor="end" textLength="7.6" lengthAdjust="spacingAndGlyphs">10</text>
<text x="396.80" y="517.93" font-size="7.0" fill="#3a3a3a" stroke="#3a3a3a" stroke-width="0.09" text-anchor="end" textLength="7.6" lengthAdjust="spacingAndGlyphs">20</text>
<text x="396.80" y="498.92" font-size="7.0" fill="#3a3a3a" stroke="#3a3a3a" stroke-width="0.09" text-anchor="end" textLength="7.6" lengthAdjust="spacingAndGlyphs">30</text>
<text x="396.80" y="479.91" font-size="7.0" fill="#3a3a3a" stroke="#3a3a3a" stroke-width="0.09" text-anchor="end" textLength="7.6" lengthAdjust="spacingAndGlyphs">40</text>
<text x="396.80" y="460.90" font-size="7.0" fill="#3a3a3a" stroke="#3a3a3a" stroke-width="0.09" text-anchor="end" textLength="7.6" lengthAdjust="spacingAndGlyphs">50</text>
<text x="396.80" y="441.89" font-size="7.0" fill="#3a3a3a" stroke="#3a3a3a" stroke-width="0.09" text-anchor="end" textLength="7.6" lengthAdjust="spacingAndGlyphs">60</text>
<text x="396.80" y="422.88" font-size="7.0" fill="#3a3a3a" stroke="#3a3a3a" stroke-width="0.09" text-anchor="end" textLength="7.6" lengthAdjust="spacingAndGlyphs">70</text>
<text x="396.80" y="403.87" font-size="7.0" fill="#3a3a3a" stroke="#3a3a3a" stroke-width="0.09" text-anchor="end" textLength="7.6" lengthAdjust="spacingAndGlyphs">80</text>
<text x="396.80" y="384.86" font-size="7.0" fill="#3a3a3a" stroke="#3a3a3a" stroke-width="0.09" text-anchor="end" textLength="7.6" lengthAdjust="spacingAndGlyphs">90</text>
<text x="396.80" y="365.85" font-size="7.0" fill="#3a3a3a" stroke="#3a3a3a" stroke-width="0.09" text-anchor="end" textLength="11.3" lengthAdjust="spacingAndGlyphs">100</text>
<polygon points="496.0,553.5 496.0,552.7 496.3,551.5 496.6,549.8 497.0,544.9 497.4,535.7 497.8,522.7 498.4,488.1 499.6,383.9 500.0,367.5 500.3,363.4 500.6,369.4 500.9,385.1 502.3,483.4 502.9,519.3 503.6,541.0 504.0,547.9 504.6,551.7 504.6,553.5" fill="#c3c3c3" stroke="none"/>
<polyline points="401.5,553.5 441.4,553.4 441.9,552.6 442.3,550.7 443.5,535.0 443.8,532.6 444.2,535.0 445.3,550.7 445.7,552.6 446.3,553.4 489.8,553.4 490.1,553.3 490.5,552.6 491.1,549.5 492.2,532.2 492.6,528.9 492.8,529.0 493.0,530.4 493.9,545.5 494.5,551.2 494.9,552.7 495.2,553.3 495.6,553.2 496.0,552.7 496.6,550.3 496.9,546.3 497.7,526.2 498.3,494.5 499.6,385.7 500.2,363.7 500.3,364.0 500.5,367.6 500.9,383.6 502.2,481.6 503.0,523.5 503.4,536.0 503.9,546.7 504.5,551.2 505.1,552.8 505.8,553.4 507.2,553.5 609.2,553.5 609.6,553.3 610.0,552.7 610.3,550.6 611.3,537.2 611.7,534.5 612.0,537.2 613.0,550.6 613.6,553.0 614.1,549.6 615.1,537.5 615.3,537.6 615.4,539.2 616.2,550.0 616.6,552.5 617.0,553.3 617.7,553.5 628.3,553.5" fill="none" stroke="#404040" stroke-width="0.8" stroke-linejoin="round"/>
<line x1="496.00" y1="553.20" x2="504.62" y2="553.20" stroke="#3434e0" stroke-width="0.8800000000000001"/>
<path d="M494.00,553.60 Q494.00,551.30 496.00,551.30 Q498.00,551.30 498.00,553.60 Z" fill="#3434e0" fill-opacity="0.55" stroke="#3434e0" stroke-width="0.6400000000000001"/>
<path d="M502.62,553.60 Q502.62,551.30 504.62,551.30 Q506.62,551.30 506.62,553.60 Z" fill="#3434e0" fill-opacity="0.55" stroke="#3434e0" stroke-width="0.6400000000000001"/>
<text x="500.23" y="361.45" font-size="7.0" fill="#333" stroke="#333" stroke-width="0.09" text-anchor="middle" textLength="24.5" lengthAdjust="spacingAndGlyphs">RT: 6.53</text>
<text x="628.00" y="360.71" font-size="6.6" fill="#2a2a2a" stroke="#2a2a2a" stroke-width="0.09" textLength="31.6" lengthAdjust="spacingAndGlyphs" clip-path="url(#cbr)">NL: 3.39E3</text>
<text x="628.00" y="368.71" font-size="6.6" fill="#2a2a2a" stroke="#2a2a2a" stroke-width="0.09" textLength="13.9" lengthAdjust="spacingAndGlyphs" clip-path="url(#cbr)">m/z=</text>
<text x="628.00" y="375.31" font-size="6.6" fill="#2a2a2a" stroke="#2a2a2a" stroke-width="0.09" textLength="32.0" lengthAdjust="spacingAndGlyphs" clip-path="url(#cbr)">343.08058-</text>
<text x="628.00" y="382.21" font-size="6.6" fill="#2a2a2a" stroke="#2a2a2a" stroke-width="0.09" textLength="56.2" lengthAdjust="spacingAndGlyphs" clip-path="url(#cbr)">343.08402 F: FTMS</text>
<text x="628.00" y="389.61" font-size="6.6" fill="#2a2a2a" stroke="#2a2a2a" stroke-width="0.09" textLength="41.4" lengthAdjust="spacingAndGlyphs" clip-path="url(#cbr)">- p ESI Full ms</text>
<text x="628.00" y="396.81" font-size="6.6" fill="#2a2a2a" stroke="#2a2a2a" stroke-width="0.09" textLength="58.3" lengthAdjust="spacingAndGlyphs" clip-path="url(#cbr)">[100.0000-900.0000]</text>
<text x="628.00" y="403.81" font-size="6.6" fill="#2a2a2a" stroke="#2a2a2a" stroke-width="0.09" textLength="34.4" lengthAdjust="spacingAndGlyphs" clip-path="url(#cbr)"> MS Kenevir</text>
<line x1="401.50" y1="561.00" x2="401.50" y2="752.80" stroke="#444" stroke-width="1.0"/>
<line x1="397.00" y1="752.30" x2="401.50" y2="752.30" stroke="#555" stroke-width="0.9"/>
<line x1="399.00" y1="748.48" x2="401.50" y2="748.48" stroke="#555" stroke-width="0.9"/>
<line x1="399.00" y1="744.67" x2="401.50" y2="744.67" stroke="#555" stroke-width="0.9"/>
<line x1="399.00" y1="740.85" x2="401.50" y2="740.85" stroke="#555" stroke-width="0.9"/>
<line x1="399.00" y1="737.04" x2="401.50" y2="737.04" stroke="#555" stroke-width="0.9"/>
<line x1="397.00" y1="733.22" x2="401.50" y2="733.22" stroke="#555" stroke-width="0.9"/>
<line x1="399.00" y1="729.40" x2="401.50" y2="729.40" stroke="#555" stroke-width="0.9"/>
<line x1="399.00" y1="725.59" x2="401.50" y2="725.59" stroke="#555" stroke-width="0.9"/>
<line x1="399.00" y1="721.77" x2="401.50" y2="721.77" stroke="#555" stroke-width="0.9"/>
<line x1="399.00" y1="717.96" x2="401.50" y2="717.96" stroke="#555" stroke-width="0.9"/>
<line x1="397.00" y1="714.14" x2="401.50" y2="714.14" stroke="#555" stroke-width="0.9"/>
<line x1="399.00" y1="710.32" x2="401.50" y2="710.32" stroke="#555" stroke-width="0.9"/>
<line x1="399.00" y1="706.51" x2="401.50" y2="706.51" stroke="#555" stroke-width="0.9"/>
<line x1="399.00" y1="702.69" x2="401.50" y2="702.69" stroke="#555" stroke-width="0.9"/>
<line x1="399.00" y1="698.88" x2="401.50" y2="698.88" stroke="#555" stroke-width="0.9"/>
<line x1="397.00" y1="695.06" x2="401.50" y2="695.06" stroke="#555" stroke-width="0.9"/>
<line x1="399.00" y1="691.24" x2="401.50" y2="691.24" stroke="#555" stroke-width="0.9"/>
<line x1="399.00" y1="687.43" x2="401.50" y2="687.43" stroke="#555" stroke-width="0.9"/>
<line x1="399.00" y1="683.61" x2="401.50" y2="683.61" stroke="#555" stroke-width="0.9"/>
<line x1="399.00" y1="679.80" x2="401.50" y2="679.80" stroke="#555" stroke-width="0.9"/>
<line x1="397.00" y1="675.98" x2="401.50" y2="675.98" stroke="#555" stroke-width="0.9"/>
<line x1="399.00" y1="672.16" x2="401.50" y2="672.16" stroke="#555" stroke-width="0.9"/>
<line x1="399.00" y1="668.35" x2="401.50" y2="668.35" stroke="#555" stroke-width="0.9"/>
<line x1="399.00" y1="664.53" x2="401.50" y2="664.53" stroke="#555" stroke-width="0.9"/>
<line x1="399.00" y1="660.72" x2="401.50" y2="660.72" stroke="#555" stroke-width="0.9"/>
<line x1="397.00" y1="656.90" x2="401.50" y2="656.90" stroke="#555" stroke-width="0.9"/>
<line x1="399.00" y1="653.08" x2="401.50" y2="653.08" stroke="#555" stroke-width="0.9"/>
<line x1="399.00" y1="649.27" x2="401.50" y2="649.27" stroke="#555" stroke-width="0.9"/>
<line x1="399.00" y1="645.45" x2="401.50" y2="645.45" stroke="#555" stroke-width="0.9"/>
<line x1="399.00" y1="641.64" x2="401.50" y2="641.64" stroke="#555" stroke-width="0.9"/>
<line x1="397.00" y1="637.82" x2="401.50" y2="637.82" stroke="#555" stroke-width="0.9"/>
<line x1="399.00" y1="634.00" x2="401.50" y2="634.00" stroke="#555" stroke-width="0.9"/>
<line x1="399.00" y1="630.19" x2="401.50" y2="630.19" stroke="#555" stroke-width="0.9"/>
<line x1="399.00" y1="626.37" x2="401.50" y2="626.37" stroke="#555" stroke-width="0.9"/>
<line x1="399.00" y1="622.56" x2="401.50" y2="622.56" stroke="#555" stroke-width="0.9"/>
<line x1="397.00" y1="618.74" x2="401.50" y2="618.74" stroke="#555" stroke-width="0.9"/>
<line x1="399.00" y1="614.92" x2="401.50" y2="614.92" stroke="#555" stroke-width="0.9"/>
<line x1="399.00" y1="611.11" x2="401.50" y2="611.11" stroke="#555" stroke-width="0.9"/>
<line x1="399.00" y1="607.29" x2="401.50" y2="607.29" stroke="#555" stroke-width="0.9"/>
<line x1="399.00" y1="603.48" x2="401.50" y2="603.48" stroke="#555" stroke-width="0.9"/>
<line x1="397.00" y1="599.66" x2="401.50" y2="599.66" stroke="#555" stroke-width="0.9"/>
<line x1="399.00" y1="595.84" x2="401.50" y2="595.84" stroke="#555" stroke-width="0.9"/>
<line x1="399.00" y1="592.03" x2="401.50" y2="592.03" stroke="#555" stroke-width="0.9"/>
<line x1="399.00" y1="588.21" x2="401.50" y2="588.21" stroke="#555" stroke-width="0.9"/>
<line x1="399.00" y1="584.40" x2="401.50" y2="584.40" stroke="#555" stroke-width="0.9"/>
<line x1="397.00" y1="580.58" x2="401.50" y2="580.58" stroke="#555" stroke-width="0.9"/>
<line x1="399.00" y1="576.76" x2="401.50" y2="576.76" stroke="#555" stroke-width="0.9"/>
<line x1="399.00" y1="572.95" x2="401.50" y2="572.95" stroke="#555" stroke-width="0.9"/>
<line x1="399.00" y1="569.13" x2="401.50" y2="569.13" stroke="#555" stroke-width="0.9"/>
<line x1="399.00" y1="565.32" x2="401.50" y2="565.32" stroke="#555" stroke-width="0.9"/>
<line x1="397.00" y1="561.50" x2="401.50" y2="561.50" stroke="#555" stroke-width="0.9"/>
<text x="396.80" y="754.75" font-size="7.0" fill="#3a3a3a" stroke="#3a3a3a" stroke-width="0.09" text-anchor="end" textLength="3.8" lengthAdjust="spacingAndGlyphs">0</text>
<text x="396.80" y="735.67" font-size="7.0" fill="#3a3a3a" stroke="#3a3a3a" stroke-width="0.09" text-anchor="end" textLength="7.6" lengthAdjust="spacingAndGlyphs">10</text>
<text x="396.80" y="716.59" font-size="7.0" fill="#3a3a3a" stroke="#3a3a3a" stroke-width="0.09" text-anchor="end" textLength="7.6" lengthAdjust="spacingAndGlyphs">20</text>
<text x="396.80" y="697.51" font-size="7.0" fill="#3a3a3a" stroke="#3a3a3a" stroke-width="0.09" text-anchor="end" textLength="7.6" lengthAdjust="spacingAndGlyphs">30</text>
<text x="396.80" y="678.43" font-size="7.0" fill="#3a3a3a" stroke="#3a3a3a" stroke-width="0.09" text-anchor="end" textLength="7.6" lengthAdjust="spacingAndGlyphs">40</text>
<text x="396.80" y="659.35" font-size="7.0" fill="#3a3a3a" stroke="#3a3a3a" stroke-width="0.09" text-anchor="end" textLength="7.6" lengthAdjust="spacingAndGlyphs">50</text>
<text x="396.80" y="640.27" font-size="7.0" fill="#3a3a3a" stroke="#3a3a3a" stroke-width="0.09" text-anchor="end" textLength="7.6" lengthAdjust="spacingAndGlyphs">60</text>
<text x="396.80" y="621.19" font-size="7.0" fill="#3a3a3a" stroke="#3a3a3a" stroke-width="0.09" text-anchor="end" textLength="7.6" lengthAdjust="spacingAndGlyphs">70</text>
<text x="396.80" y="602.11" font-size="7.0" fill="#3a3a3a" stroke="#3a3a3a" stroke-width="0.09" text-anchor="end" textLength="7.6" lengthAdjust="spacingAndGlyphs">80</text>
<text x="396.80" y="583.03" font-size="7.0" fill="#3a3a3a" stroke="#3a3a3a" stroke-width="0.09" text-anchor="end" textLength="7.6" lengthAdjust="spacingAndGlyphs">90</text>
<text x="396.80" y="563.95" font-size="7.0" fill="#3a3a3a" stroke="#3a3a3a" stroke-width="0.09" text-anchor="end" textLength="11.3" lengthAdjust="spacingAndGlyphs">100</text>
<polygon points="491.2,752.3 491.2,750.6 492.4,749.2 493.4,747.7 494.2,745.4 494.8,742.9 495.2,739.9 495.7,735.6 496.5,723.5 497.2,706.7 497.8,687.3 500.2,580.9 500.8,565.9 501.0,562.8 501.2,561.5 501.4,561.6 501.5,562.0 501.8,565.6 502.5,582.1 504.8,677.3 505.9,711.6 506.7,728.4 507.4,733.4 508.0,735.1 508.5,736.1 508.5,752.3" fill="#c3c3c3" stroke="none"/>
<polyline points="401.5,752.3 485.8,752.2 488.4,751.9 490.3,751.2 491.8,750.0 493.2,748.1 494.3,745.0 495.2,739.7 496.0,731.7 496.8,717.9 497.9,682.6 500.2,582.4 500.7,567.0 501.1,562.1 501.3,561.5 501.5,562.0 501.9,566.1 502.6,585.2 504.9,679.0 506.0,715.0 506.8,729.1 507.3,733.2 508.3,735.7 509.0,736.5 510.7,737.1 514.1,739.7 516.4,741.1 517.4,742.3 519.2,745.3 520.0,746.1 520.4,746.2 520.8,746.1 522.6,744.3 523.2,744.3 525.1,745.4 525.7,745.2 526.6,744.4 527.2,744.3 528.7,745.5 533.0,750.7 534.2,751.4 534.7,751.0 536.6,748.7 537.0,748.7 537.4,748.9 538.7,750.4 539.5,750.8 540.8,748.9 541.2,748.7 541.9,749.2 544.0,751.9 544.8,752.3 545.5,752.0 547.4,749.9 548.2,749.4 548.7,749.6 550.2,751.0 550.8,751.3 551.4,751.2 552.9,749.9 553.5,749.8 553.8,750.2 554.8,752.0 555.2,752.3 566.3,752.3 567.1,751.5 568.6,752.3 628.3,752.3" fill="none" stroke="#a04848" stroke-width="1.0" stroke-linejoin="round"/>
<line x1="508.55" y1="752.30" x2="508.55" y2="736.08" stroke="#3434e0" stroke-width="0.9"/>
<line x1="491.16" y1="752.00" x2="508.55" y2="752.00" stroke="#3434e0" stroke-width="1.1"/>
<path d="M489.16,752.40 Q489.16,750.10 491.16,750.10 Q493.16,750.10 493.16,752.40 Z" fill="#3434e0" fill-opacity="0.55" stroke="#3434e0" stroke-width="0.8"/>
<path d="M506.55,752.40 Q506.55,750.10 508.55,750.10 Q510.55,750.10 510.55,752.40 Z" fill="#3434e0" fill-opacity="0.55" stroke="#3434e0" stroke-width="0.8"/>
<text x="501.29" y="560.05" font-size="7.0" fill="#333" stroke="#333" stroke-width="0.09" text-anchor="middle" textLength="24.5" lengthAdjust="spacingAndGlyphs">RT: 6.60</text>
<text x="628.00" y="559.41" font-size="6.6" fill="#8a2a2a" stroke="#8a2a2a" stroke-width="0.09" textLength="31.6" lengthAdjust="spacingAndGlyphs" clip-path="url(#cbr)">NL: 1.59E5</text>
<text x="628.00" y="568.01" font-size="6.6" fill="#8a2a2a" stroke="#8a2a2a" stroke-width="0.09" textLength="13.9" lengthAdjust="spacingAndGlyphs" clip-path="url(#cbr)">m/z=</text>
<text x="628.00" y="574.91" font-size="6.6" fill="#8a2a2a" stroke="#8a2a2a" stroke-width="0.09" textLength="32.0" lengthAdjust="spacingAndGlyphs" clip-path="url(#cbr)">253.04933-</text>
<text x="628.00" y="582.01" font-size="6.6" fill="#8a2a2a" stroke="#8a2a2a" stroke-width="0.09" textLength="56.2" lengthAdjust="spacingAndGlyphs" clip-path="url(#cbr)">253.05187 F: FTMS</text>
<text x="628.00" y="589.11" font-size="6.6" fill="#8a2a2a" stroke="#8a2a2a" stroke-width="0.09" textLength="41.4" lengthAdjust="spacingAndGlyphs" clip-path="url(#cbr)">- p ESI Full ms</text>
<text x="628.00" y="596.21" font-size="6.6" fill="#8a2a2a" stroke="#8a2a2a" stroke-width="0.09" textLength="58.3" lengthAdjust="spacingAndGlyphs" clip-path="url(#cbr)">[100.0000-900.0000]</text>
<text x="628.00" y="603.01" font-size="6.6" fill="#8a2a2a" stroke="#8a2a2a" stroke-width="0.09" textLength="34.4" lengthAdjust="spacingAndGlyphs" clip-path="url(#cbr)"> MS Kenevir</text>
</svg>
</body></html>
